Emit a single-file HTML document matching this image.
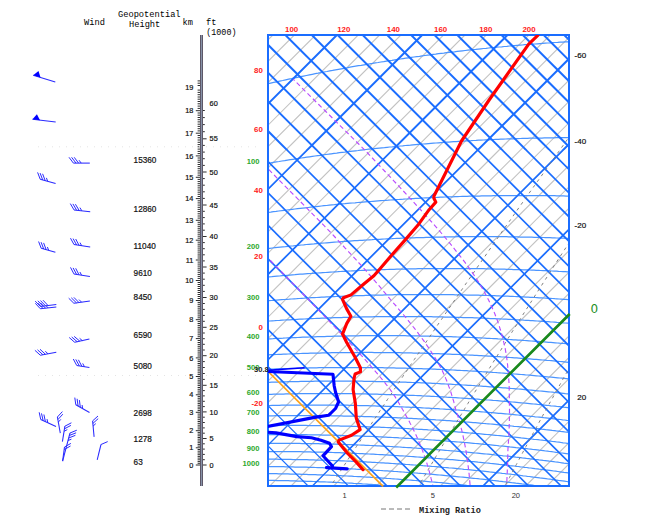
<!DOCTYPE html><html><head><meta charset="utf-8"><style>html,body{margin:0;padding:0;background:#fff;width:650px;height:524px;overflow:hidden}svg{display:block}</style></head><body><svg width="650" height="524" viewBox="0 0 650 524"><defs><clipPath id="c"><rect x="268" y="35" width="301" height="451"/></clipPath><clipPath id="thick"><polygon points="263,383 263,30 574,30 574,491 371,491"/></clipPath><clipPath id="c2"><rect x="268" y="35" width="302" height="452"/></clipPath><clipPath id="b1"><rect x="0" y="0" width="650" height="150"/></clipPath><clipPath id="b2"><rect x="0" y="150" width="650" height="200"/></clipPath><clipPath id="b3"><rect x="0" y="350" width="650" height="200"/></clipPath><clipPath id="thin"><polygon points="263,383 371,491 263,491"/></clipPath></defs><g clip-path="url(#c)"><line x1="268.0" y1="39.9" x2="272.9" y2="35.0" stroke="#c2c2c2" stroke-width="1.1"/><line x1="268.0" y1="61.3" x2="294.3" y2="35.0" stroke="#c2c2c2" stroke-width="1.1"/><line x1="268.0" y1="82.6" x2="315.6" y2="35.0" stroke="#c2c2c2" stroke-width="1.1"/><line x1="268.0" y1="103.9" x2="336.9" y2="35.0" stroke="#c2c2c2" stroke-width="1.1"/><line x1="268.0" y1="125.2" x2="358.2" y2="35.0" stroke="#c2c2c2" stroke-width="1.1"/><line x1="268.0" y1="146.6" x2="379.6" y2="35.0" stroke="#c2c2c2" stroke-width="1.1"/><line x1="268.0" y1="167.9" x2="400.9" y2="35.0" stroke="#c2c2c2" stroke-width="1.1"/><line x1="268.0" y1="189.2" x2="422.2" y2="35.0" stroke="#c2c2c2" stroke-width="1.1"/><line x1="268.0" y1="210.5" x2="443.5" y2="35.0" stroke="#c2c2c2" stroke-width="1.1"/><line x1="268.0" y1="231.9" x2="464.9" y2="35.0" stroke="#c2c2c2" stroke-width="1.1"/><line x1="268.0" y1="253.2" x2="486.2" y2="35.0" stroke="#c2c2c2" stroke-width="1.1"/><line x1="268.0" y1="274.5" x2="507.5" y2="35.0" stroke="#c2c2c2" stroke-width="1.1"/><line x1="268.0" y1="295.8" x2="528.8" y2="35.0" stroke="#c2c2c2" stroke-width="1.1"/><line x1="268.0" y1="317.2" x2="550.2" y2="35.0" stroke="#c2c2c2" stroke-width="1.1"/><line x1="268.0" y1="338.5" x2="569.0" y2="37.5" stroke="#c2c2c2" stroke-width="1.1"/><line x1="268.0" y1="359.8" x2="569.0" y2="58.8" stroke="#c2c2c2" stroke-width="1.1"/><line x1="268.0" y1="381.1" x2="569.0" y2="80.1" stroke="#c2c2c2" stroke-width="1.1"/><line x1="268.0" y1="402.5" x2="569.0" y2="101.5" stroke="#c2c2c2" stroke-width="1.1"/><line x1="268.0" y1="423.8" x2="569.0" y2="122.8" stroke="#c2c2c2" stroke-width="1.1"/><line x1="268.0" y1="445.1" x2="569.0" y2="144.1" stroke="#c2c2c2" stroke-width="1.1"/><line x1="268.0" y1="466.4" x2="569.0" y2="165.4" stroke="#c2c2c2" stroke-width="1.1"/><line x1="269.8" y1="486.0" x2="569.0" y2="186.8" stroke="#c2c2c2" stroke-width="1.1"/><line x1="291.1" y1="486.0" x2="569.0" y2="208.1" stroke="#c2c2c2" stroke-width="1.1"/><line x1="312.4" y1="486.0" x2="569.0" y2="229.4" stroke="#c2c2c2" stroke-width="1.1"/><line x1="333.7" y1="486.0" x2="569.0" y2="250.7" stroke="#c2c2c2" stroke-width="1.1"/><line x1="355.1" y1="486.0" x2="569.0" y2="272.1" stroke="#c2c2c2" stroke-width="1.1"/><line x1="376.4" y1="486.0" x2="569.0" y2="293.4" stroke="#c2c2c2" stroke-width="1.1"/><line x1="397.7" y1="486.0" x2="569.0" y2="314.7" stroke="#c2c2c2" stroke-width="1.1"/><line x1="419.0" y1="486.0" x2="569.0" y2="336.0" stroke="#c2c2c2" stroke-width="1.1"/><line x1="440.4" y1="486.0" x2="569.0" y2="357.4" stroke="#c2c2c2" stroke-width="1.1"/><line x1="461.7" y1="486.0" x2="569.0" y2="378.7" stroke="#c2c2c2" stroke-width="1.1"/><line x1="483.0" y1="486.0" x2="569.0" y2="400.0" stroke="#c2c2c2" stroke-width="1.1"/><line x1="504.3" y1="486.0" x2="569.0" y2="421.3" stroke="#c2c2c2" stroke-width="1.1"/><line x1="525.7" y1="486.0" x2="569.0" y2="442.7" stroke="#c2c2c2" stroke-width="1.1"/><line x1="547.0" y1="486.0" x2="569.0" y2="464.0" stroke="#c2c2c2" stroke-width="1.1"/><line x1="568.3" y1="486.0" x2="569.0" y2="485.3" stroke="#c2c2c2" stroke-width="1.1"/><polyline points="249.4,88.0 252.4,87.3 255.5,86.6 258.5,85.9 261.6,85.2 264.6,84.5 267.6,83.8 270.7,83.1 273.7,82.4 276.7,81.8 279.7,81.1 282.7,80.5 285.7,79.8 288.7,79.2 291.6,78.6 294.6,77.9 297.6,77.3 300.5,76.7 303.5,76.1 306.4,75.5 309.4,74.9 312.3,74.3 315.2,73.7 318.1,73.2 321.1,72.6 324.0,72.0 326.9,71.5 329.8,70.9 332.6,70.4 335.5,69.8 338.4,69.3 341.3,68.8 344.1,68.3 347.0,67.8 349.9,67.2 352.7,66.7 355.6,66.2 358.4,65.7 361.2,65.3 364.1,64.8 366.9,64.3 369.7,63.8 372.5,63.4 375.3,62.9 378.1,62.5 380.9,62.0 383.7,61.6 386.5,61.1 389.3,60.7 392.0,60.3 394.8,59.8 397.6,59.4 400.3,59.0 403.1,58.6 405.8,58.2 408.6,57.8 411.3,57.4 414.0,57.0 416.8,56.6 419.5,56.3 422.2,55.9 424.9,55.5 427.6,55.1 430.4,54.8 433.1,54.4 435.7,54.1 438.4,53.7 441.1,53.4 443.8,53.1 446.5,52.7 449.2,52.4 451.8,52.1 454.5,51.8 457.2,51.4 459.8,51.1 462.5,50.8 465.1,50.5 467.8,50.2 470.4,49.9 473.0,49.6 475.7,49.4 478.3,49.1 480.9,48.8 483.5,48.5 486.1,48.3 488.7,48.0 491.3,47.7 493.9,47.5 496.5,47.2 499.1,47.0 501.7,46.8 504.3,46.5 506.9,46.3 509.5,46.0 512.0,45.8 514.6,45.6 517.2,45.4 519.7,45.2 522.3,45.0 524.8,44.7 527.4,44.5 529.9,44.3 532.5,44.1 535.0,44.0 537.5,43.8 540.1,43.6 542.6,43.4 545.1,43.2 547.6,43.0 550.2,42.9 552.7,42.7 555.2,42.5 557.7,42.4 560.2,42.2 562.7,42.1 565.2,41.9 567.7,41.8 570.2,41.6 572.7,41.5 575.1,41.4 577.6,41.2 580.1,41.1 582.6,41.0 585.0,40.9 587.5,40.7" fill="none" stroke="#4a94ff" stroke-width="1.25"/><polyline points="250.8,166.3 253.7,165.8 256.5,165.3 259.4,164.8 262.2,164.3 265.0,163.8 267.9,163.3 270.7,162.9 273.5,162.4 276.3,161.9 279.1,161.5 281.9,161.0 284.7,160.6 287.5,160.1 290.2,159.7 293.0,159.3 295.8,158.9 298.6,158.4 301.3,158.0 304.1,157.6 306.8,157.2 309.6,156.8 312.3,156.4 315.0,156.0 317.8,155.6 320.5,155.3 323.2,154.9 325.9,154.5 328.6,154.2 331.3,153.8 334.0,153.4 336.7,153.1 339.4,152.7 342.1,152.4 344.8,152.1 347.5,151.7 350.1,151.4 352.8,151.1 355.5,150.8 358.1,150.5 360.8,150.1 363.4,149.8 366.1,149.5 368.7,149.2 371.4,148.9 374.0,148.7 376.6,148.4 379.3,148.1 381.9,147.8 384.5,147.6 387.1,147.3 389.7,147.0 392.3,146.8 394.9,146.5 397.5,146.3 400.1,146.0 402.7,145.8 405.3,145.5 407.9,145.3 410.4,145.1 413.0,144.8 415.6,144.6 418.2,144.4 420.7,144.2 423.3,144.0 425.8,143.8 428.4,143.6 430.9,143.4 433.5,143.2 436.0,143.0 438.5,142.8 441.1,142.6 443.6,142.4 446.1,142.2 448.6,142.1 451.1,141.9 453.7,141.7 456.2,141.6 458.7,141.4 461.2,141.2 463.7,141.1 466.2,140.9 468.7,140.8 471.2,140.7 473.6,140.5 476.1,140.4 478.6,140.2 481.1,140.1 483.5,140.0 486.0,139.9 488.5,139.8 490.9,139.6 493.4,139.5 495.8,139.4 498.3,139.3 500.7,139.2 503.2,139.1 505.6,139.0 508.1,138.9 510.5,138.8 512.9,138.8 515.4,138.7 517.8,138.6 520.2,138.5 522.6,138.4 525.0,138.4 527.5,138.3 529.9,138.2 532.3,138.2 534.7,138.1 537.1,138.1 539.5,138.0 541.9,138.0 544.3,137.9 546.6,137.9 549.0,137.8 551.4,137.8 553.8,137.8 556.2,137.7 558.5,137.7 560.9,137.7 563.3,137.7 565.7,137.6 568.0,137.6 570.4,137.6 572.7,137.6 575.1,137.6 577.4,137.6 579.8,137.6 582.1,137.6 584.5,137.6 586.8,137.6" fill="none" stroke="#4a94ff" stroke-width="1.25"/><polyline points="248.9,215.1 251.6,214.7 254.4,214.3 257.1,213.9 259.8,213.6 262.6,213.2 265.3,212.8 268.0,212.4 270.7,212.1 273.4,211.7 276.1,211.4 278.8,211.0 281.5,210.7 284.2,210.3 286.9,210.0 289.6,209.7 292.2,209.3 294.9,209.0 297.6,208.7 300.2,208.4 302.9,208.1 305.5,207.8 308.2,207.5 310.8,207.2 313.5,206.9 316.1,206.6 318.7,206.3 321.3,206.0 324.0,205.7 326.6,205.5 329.2,205.2 331.8,204.9 334.4,204.7 337.0,204.4 339.6,204.2 342.2,203.9 344.8,203.7 347.4,203.4 349.9,203.2 352.5,203.0 355.1,202.8 357.7,202.5 360.2,202.3 362.8,202.1 365.3,201.9 367.9,201.7 370.5,201.5 373.0,201.3 375.5,201.1 378.1,200.9 380.6,200.7 383.1,200.5 385.7,200.3 388.2,200.2 390.7,200.0 393.2,199.8 395.7,199.6 398.3,199.5 400.8,199.3 403.3,199.2 405.8,199.0 408.3,198.9 410.7,198.7 413.2,198.6 415.7,198.4 418.2,198.3 420.7,198.2 423.1,198.0 425.6,197.9 428.1,197.8 430.5,197.7 433.0,197.6 435.5,197.5 437.9,197.3 440.4,197.2 442.8,197.1 445.3,197.0 447.7,196.9 450.1,196.8 452.6,196.8 455.0,196.7 457.4,196.6 459.9,196.5 462.3,196.4 464.7,196.4 467.1,196.3 469.5,196.2 471.9,196.2 474.4,196.1 476.8,196.0 479.2,196.0 481.6,195.9 483.9,195.9 486.3,195.8 488.7,195.8 491.1,195.8 493.5,195.7 495.9,195.7 498.3,195.7 500.6,195.6 503.0,195.6 505.4,195.6 507.7,195.6 510.1,195.5 512.5,195.5 514.8,195.5 517.2,195.5 519.5,195.5 521.9,195.5 524.2,195.5 526.6,195.5 528.9,195.5 531.2,195.5 533.6,195.5 535.9,195.5 538.2,195.6 540.6,195.6 542.9,195.6 545.2,195.6 547.5,195.6 549.8,195.7 552.2,195.7 554.5,195.7 556.8,195.8 559.1,195.8 561.4,195.9 563.7,195.9 566.0,196.0 568.3,196.0 570.6,196.1 572.9,196.1 575.2,196.2 577.4,196.2 579.7,196.3 582.0,196.4 584.3,196.4 586.6,196.5 588.8,196.6" fill="none" stroke="#4a94ff" stroke-width="1.25"/><polyline points="248.5,250.8 251.1,250.4 253.8,250.1 256.5,249.8 259.1,249.5 261.8,249.2 264.4,248.9 267.1,248.6 269.7,248.3 272.4,248.0 275.0,247.7 277.6,247.4 280.2,247.1 282.9,246.8 285.5,246.6 288.1,246.3 290.7,246.0 293.3,245.8 295.9,245.5 298.5,245.3 301.1,245.0 303.7,244.8 306.3,244.5 308.9,244.3 311.4,244.1 314.0,243.9 316.6,243.6 319.1,243.4 321.7,243.2 324.3,243.0 326.8,242.8 329.4,242.6 331.9,242.4 334.4,242.2 337.0,242.0 339.5,241.8 342.0,241.6 344.6,241.4 347.1,241.3 349.6,241.1 352.1,240.9 354.6,240.7 357.2,240.6 359.7,240.4 362.2,240.3 364.7,240.1 367.2,240.0 369.6,239.8 372.1,239.7 374.6,239.5 377.1,239.4 379.6,239.3 382.1,239.1 384.5,239.0 387.0,238.9 389.5,238.8 391.9,238.7 394.4,238.5 396.8,238.4 399.3,238.3 401.7,238.2 404.2,238.1 406.6,238.0 409.0,237.9 411.5,237.9 413.9,237.8 416.3,237.7 418.8,237.6 421.2,237.5 423.6,237.5 426.0,237.4 428.4,237.3 430.8,237.3 433.3,237.2 435.7,237.1 438.1,237.1 440.5,237.0 442.9,237.0 445.2,236.9 447.6,236.9 450.0,236.9 452.4,236.8 454.8,236.8 457.2,236.7 459.5,236.7 461.9,236.7 464.3,236.7 466.6,236.7 469.0,236.6 471.4,236.6 473.7,236.6 476.1,236.6 478.4,236.6 480.8,236.6 483.1,236.6 485.5,236.6 487.8,236.6 490.1,236.6 492.5,236.6 494.8,236.6 497.1,236.6 499.5,236.7 501.8,236.7 504.1,236.7 506.4,236.7 508.7,236.8 511.1,236.8 513.4,236.8 515.7,236.9 518.0,236.9 520.3,237.0 522.6,237.0 524.9,237.0 527.2,237.1 529.5,237.1 531.8,237.2 534.1,237.3 536.3,237.3 538.6,237.4 540.9,237.4 543.2,237.5 545.5,237.6 547.7,237.7 550.0,237.7 552.3,237.8 554.5,237.9 556.8,238.0 559.1,238.1 561.3,238.1 563.6,238.2 565.8,238.3 568.1,238.4 570.3,238.5 572.6,238.6 574.8,238.7 577.1,238.8 579.3,238.9 581.6,239.0 583.8,239.1 586.0,239.2 588.3,239.4" fill="none" stroke="#4a94ff" stroke-width="1.25"/><polyline points="248.4,279.0 251.0,278.7 253.6,278.4 256.2,278.2 258.8,277.9 261.4,277.7 264.0,277.4 266.6,277.1 269.2,276.9 271.8,276.7 274.4,276.4 277.0,276.2 279.6,276.0 282.1,275.7 284.7,275.5 287.3,275.3 289.8,275.1 292.4,274.9 294.9,274.7 297.5,274.4 300.0,274.2 302.6,274.1 305.1,273.9 307.6,273.7 310.2,273.5 312.7,273.3 315.2,273.1 317.7,273.0 320.3,272.8 322.8,272.6 325.3,272.5 327.8,272.3 330.3,272.1 332.8,272.0 335.3,271.8 337.8,271.7 340.3,271.5 342.7,271.4 345.2,271.3 347.7,271.1 350.2,271.0 352.6,270.9 355.1,270.8 357.6,270.6 360.0,270.5 362.5,270.4 365.0,270.3 367.4,270.2 369.8,270.1 372.3,270.0 374.7,269.9 377.2,269.8 379.6,269.7 382.0,269.6 384.5,269.6 386.9,269.5 389.3,269.4 391.7,269.3 394.1,269.3 396.6,269.2 399.0,269.1 401.4,269.1 403.8,269.0 406.2,269.0 408.6,268.9 411.0,268.9 413.4,268.8 415.8,268.8 418.1,268.7 420.5,268.7 422.9,268.7 425.3,268.6 427.7,268.6 430.0,268.6 432.4,268.5 434.8,268.5 437.1,268.5 439.5,268.5 441.8,268.5 444.2,268.5 446.5,268.5 448.9,268.5 451.2,268.5 453.6,268.5 455.9,268.5 458.3,268.5 460.6,268.5 462.9,268.5 465.3,268.5 467.6,268.5 469.9,268.6 472.2,268.6 474.6,268.6 476.9,268.6 479.2,268.7 481.5,268.7 483.8,268.7 486.1,268.8 488.4,268.8 490.7,268.9 493.0,268.9 495.3,269.0 497.6,269.0 499.9,269.1 502.2,269.1 504.5,269.2 506.7,269.3 509.0,269.3 511.3,269.4 513.6,269.5 515.9,269.5 518.1,269.6 520.4,269.7 522.7,269.8 524.9,269.8 527.2,269.9 529.4,270.0 531.7,270.1 534.0,270.2 536.2,270.3 538.5,270.4 540.7,270.5 543.0,270.6 545.2,270.7 547.4,270.8 549.7,270.9 551.9,271.0 554.1,271.1 556.4,271.2 558.6,271.4 560.8,271.5 563.1,271.6 565.3,271.7 567.5,271.8 569.7,272.0 571.9,272.1 574.2,272.2 576.4,272.4 578.6,272.5 580.8,272.6 583.0,272.8 585.2,272.9 587.4,273.1" fill="none" stroke="#4a94ff" stroke-width="1.25"/><polyline points="248.4,302.5 250.9,302.2 253.5,302.0 256.1,301.8 258.7,301.5 261.2,301.3 263.8,301.1 266.3,300.9 268.9,300.7 271.4,300.5 274.0,300.3 276.5,300.1 279.1,299.9 281.6,299.7 284.1,299.5 286.7,299.3 289.2,299.2 291.7,299.0 294.2,298.8 296.7,298.7 299.2,298.5 301.7,298.3 304.2,298.2 306.7,298.0 309.2,297.9 311.7,297.7 314.2,297.6 316.7,297.5 319.2,297.3 321.7,297.2 324.1,297.1 326.6,296.9 329.1,296.8 331.5,296.7 334.0,296.6 336.5,296.5 338.9,296.4 341.4,296.3 343.8,296.2 346.2,296.1 348.7,296.0 351.1,295.9 353.6,295.8 356.0,295.7 358.4,295.6 360.8,295.5 363.3,295.5 365.7,295.4 368.1,295.3 370.5,295.2 372.9,295.2 375.3,295.1 377.7,295.1 380.1,295.0 382.5,295.0 384.9,294.9 387.3,294.9 389.7,294.8 392.1,294.8 394.5,294.7 396.9,294.7 399.2,294.7 401.6,294.6 404.0,294.6 406.4,294.6 408.7,294.6 411.1,294.6 413.4,294.5 415.8,294.5 418.2,294.5 420.5,294.5 422.9,294.5 425.2,294.5 427.5,294.5 429.9,294.5 432.2,294.5 434.6,294.5 436.9,294.6 439.2,294.6 441.5,294.6 443.9,294.6 446.2,294.6 448.5,294.7 450.8,294.7 453.1,294.7 455.4,294.8 457.8,294.8 460.1,294.8 462.4,294.9 464.7,294.9 467.0,295.0 469.3,295.0 471.6,295.1 473.8,295.1 476.1,295.2 478.4,295.2 480.7,295.3 483.0,295.4 485.3,295.4 487.5,295.5 489.8,295.6 492.1,295.7 494.4,295.7 496.6,295.8 498.9,295.9 501.1,296.0 503.4,296.1 505.7,296.1 507.9,296.2 510.2,296.3 512.4,296.4 514.7,296.5 516.9,296.6 519.2,296.7 521.4,296.8 523.6,296.9 525.9,297.1 528.1,297.2 530.3,297.3 532.6,297.4 534.8,297.5 537.0,297.6 539.2,297.8 541.5,297.9 543.7,298.0 545.9,298.1 548.1,298.3 550.3,298.4 552.5,298.5 554.7,298.7 556.9,298.8 559.1,299.0 561.3,299.1 563.5,299.3 565.7,299.4 567.9,299.6 570.1,299.7 572.3,299.9 574.5,300.0 576.7,300.2 578.9,300.3 581.1,300.5 583.2,300.7 585.4,300.8 587.6,301.0" fill="none" stroke="#4a94ff" stroke-width="1.25"/><polyline points="249.4,322.5 252.0,322.3 254.5,322.1 257.0,321.9 259.6,321.7 262.1,321.6 264.6,321.4 267.2,321.2 269.7,321.0 272.2,320.8 274.7,320.7 277.2,320.5 279.7,320.4 282.2,320.2 284.7,320.0 287.2,319.9 289.7,319.8 292.2,319.6 294.7,319.5 297.2,319.3 299.6,319.2 302.1,319.1 304.6,319.0 307.0,318.8 309.5,318.7 312.0,318.6 314.4,318.5 316.9,318.4 319.3,318.3 321.8,318.2 324.2,318.1 326.7,318.0 329.1,317.9 331.5,317.8 334.0,317.7 336.4,317.6 338.8,317.5 341.2,317.5 343.7,317.4 346.1,317.3 348.5,317.3 350.9,317.2 353.3,317.1 355.7,317.1 358.1,317.0 360.5,317.0 362.9,316.9 365.3,316.9 367.7,316.8 370.1,316.8 372.5,316.8 374.8,316.7 377.2,316.7 379.6,316.7 382.0,316.6 384.3,316.6 386.7,316.6 389.1,316.6 391.4,316.6 393.8,316.6 396.1,316.5 398.5,316.5 400.8,316.5 403.2,316.5 405.5,316.5 407.9,316.5 410.2,316.6 412.5,316.6 414.9,316.6 417.2,316.6 419.5,316.6 421.8,316.6 424.2,316.7 426.5,316.7 428.8,316.7 431.1,316.7 433.4,316.8 435.7,316.8 438.0,316.9 440.3,316.9 442.6,316.9 444.9,317.0 447.2,317.0 449.5,317.1 451.8,317.1 454.1,317.2 456.4,317.3 458.7,317.3 461.0,317.4 463.2,317.5 465.5,317.5 467.8,317.6 470.1,317.7 472.3,317.7 474.6,317.8 476.9,317.9 479.1,318.0 481.4,318.1 483.6,318.2 485.9,318.3 488.1,318.4 490.4,318.5 492.6,318.5 494.9,318.6 497.1,318.8 499.4,318.9 501.6,319.0 503.8,319.1 506.1,319.2 508.3,319.3 510.5,319.4 512.8,319.5 515.0,319.7 517.2,319.8 519.4,319.9 521.7,320.0 523.9,320.2 526.1,320.3 528.3,320.4 530.5,320.6 532.7,320.7 534.9,320.8 537.1,321.0 539.3,321.1 541.5,321.3 543.7,321.4 545.9,321.6 548.1,321.7 550.3,321.9 552.5,322.0 554.7,322.2 556.9,322.4 559.0,322.5 561.2,322.7 563.4,322.9 565.6,323.0 567.8,323.2 569.9,323.4 572.1,323.5 574.3,323.7 576.4,323.9 578.6,324.1 580.8,324.3 582.9,324.5 585.1,324.6 587.2,324.8" fill="none" stroke="#4a94ff" stroke-width="1.25"/><polyline points="248.1,340.3 250.6,340.1 253.1,339.9 255.6,339.8 258.1,339.6 260.6,339.4 263.1,339.3 265.6,339.1 268.1,339.0 270.6,338.8 273.1,338.7 275.6,338.5 278.1,338.4 280.6,338.3 283.0,338.2 285.5,338.0 288.0,337.9 290.4,337.8 292.9,337.7 295.4,337.6 297.8,337.5 300.3,337.3 302.7,337.2 305.2,337.1 307.6,337.1 310.0,337.0 312.5,336.9 314.9,336.8 317.3,336.7 319.8,336.6 322.2,336.5 324.6,336.5 327.0,336.4 329.4,336.3 331.8,336.3 334.2,336.2 336.6,336.2 339.0,336.1 341.4,336.0 343.8,336.0 346.2,336.0 348.6,335.9 351.0,335.9 353.4,335.8 355.8,335.8 358.1,335.8 360.5,335.7 362.9,335.7 365.3,335.7 367.6,335.7 370.0,335.7 372.3,335.6 374.7,335.6 377.1,335.6 379.4,335.6 381.8,335.6 384.1,335.6 386.4,335.6 388.8,335.6 391.1,335.6 393.5,335.6 395.8,335.6 398.1,335.7 400.4,335.7 402.8,335.7 405.1,335.7 407.4,335.8 409.7,335.8 412.0,335.8 414.4,335.9 416.7,335.9 419.0,335.9 421.3,336.0 423.6,336.0 425.9,336.1 428.2,336.1 430.5,336.2 432.8,336.2 435.0,336.3 437.3,336.3 439.6,336.4 441.9,336.5 444.2,336.5 446.4,336.6 448.7,336.7 451.0,336.7 453.3,336.8 455.5,336.9 457.8,337.0 460.1,337.1 462.3,337.2 464.6,337.2 466.8,337.3 469.1,337.4 471.3,337.5 473.6,337.6 475.8,337.7 478.1,337.8 480.3,337.9 482.5,338.0 484.8,338.1 487.0,338.3 489.2,338.4 491.5,338.5 493.7,338.6 495.9,338.7 498.1,338.9 500.4,339.0 502.6,339.1 504.8,339.2 507.0,339.4 509.2,339.5 511.4,339.6 513.6,339.8 515.8,339.9 518.1,340.1 520.3,340.2 522.5,340.3 524.6,340.5 526.8,340.6 529.0,340.8 531.2,341.0 533.4,341.1 535.6,341.3 537.8,341.4 540.0,341.6 542.2,341.8 544.3,341.9 546.5,342.1 548.7,342.3 550.9,342.4 553.0,342.6 555.2,342.8 557.4,343.0 559.5,343.2 561.7,343.3 563.8,343.5 566.0,343.7 568.2,343.9 570.3,344.1 572.5,344.3 574.6,344.5 576.8,344.7 578.9,344.9 581.1,345.1 583.2,345.3 585.3,345.5 587.5,345.7" fill="none" stroke="#4a94ff" stroke-width="1.25"/><polyline points="248.8,355.9 251.3,355.8 253.8,355.7 256.3,355.5 258.8,355.4 261.3,355.2 263.7,355.1 266.2,355.0 268.7,354.9 271.1,354.7 273.6,354.6 276.1,354.5 278.5,354.4 281.0,354.3 283.4,354.2 285.9,354.1 288.3,354.0 290.8,353.9 293.2,353.8 295.6,353.7 298.1,353.6 300.5,353.5 302.9,353.4 305.3,353.4 307.8,353.3 310.2,353.2 312.6,353.2 315.0,353.1 317.4,353.0 319.8,353.0 322.2,352.9 324.6,352.9 327.0,352.8 329.4,352.8 331.8,352.7 334.2,352.7 336.6,352.7 338.9,352.6 341.3,352.6 343.7,352.6 346.1,352.5 348.4,352.5 350.8,352.5 353.2,352.5 355.5,352.5 357.9,352.5 360.2,352.4 362.6,352.4 364.9,352.4 367.3,352.4 369.6,352.4 372.0,352.4 374.3,352.5 376.6,352.5 379.0,352.5 381.3,352.5 383.6,352.5 385.9,352.5 388.3,352.6 390.6,352.6 392.9,352.6 395.2,352.6 397.5,352.7 399.8,352.7 402.1,352.8 404.4,352.8 406.7,352.8 409.0,352.9 411.3,352.9 413.6,353.0 415.9,353.0 418.2,353.1 420.5,353.2 422.8,353.2 425.1,353.3 427.3,353.4 429.6,353.4 431.9,353.5 434.2,353.6 436.4,353.7 438.7,353.7 441.0,353.8 443.2,353.9 445.5,354.0 447.7,354.1 450.0,354.2 452.2,354.3 454.5,354.4 456.7,354.4 459.0,354.5 461.2,354.7 463.5,354.8 465.7,354.9 467.9,355.0 470.2,355.1 472.4,355.2 474.6,355.3 476.9,355.4 479.1,355.6 481.3,355.7 483.5,355.8 485.8,355.9 488.0,356.1 490.2,356.2 492.4,356.3 494.6,356.5 496.8,356.6 499.0,356.7 501.2,356.9 503.4,357.0 505.6,357.2 507.8,357.3 510.0,357.5 512.2,357.6 514.4,357.8 516.6,357.9 518.8,358.1 521.0,358.3 523.1,358.4 525.3,358.6 527.5,358.8 529.7,358.9 531.9,359.1 534.0,359.3 536.2,359.4 538.4,359.6 540.5,359.8 542.7,360.0 544.9,360.2 547.0,360.4 549.2,360.5 551.3,360.7 553.5,360.9 555.6,361.1 557.8,361.3 559.9,361.5 562.1,361.7 564.2,361.9 566.4,362.1 568.5,362.3 570.7,362.5 572.8,362.7 574.9,362.9 577.1,363.1 579.2,363.4 581.3,363.6 583.5,363.8 585.6,364.0 587.7,364.2" fill="none" stroke="#4a94ff" stroke-width="1.25"/><polyline points="248.7,370.2 251.2,370.0 253.6,369.9 256.1,369.8 258.6,369.7 261.0,369.5 263.5,369.4 265.9,369.3 268.4,369.2 270.8,369.1 273.3,369.0 275.7,368.9 278.2,368.8 280.6,368.7 283.0,368.7 285.5,368.6 287.9,368.5 290.3,368.4 292.7,368.3 295.1,368.3 297.5,368.2 300.0,368.1 302.4,368.1 304.8,368.0 307.2,368.0 309.6,367.9 312.0,367.9 314.4,367.8 316.7,367.8 319.1,367.7 321.5,367.7 323.9,367.7 326.3,367.6 328.6,367.6 331.0,367.6 333.4,367.6 335.7,367.5 338.1,367.5 340.5,367.5 342.8,367.5 345.2,367.5 347.5,367.5 349.9,367.5 352.2,367.5 354.6,367.5 356.9,367.5 359.2,367.5 361.6,367.5 363.9,367.5 366.2,367.5 368.6,367.6 370.9,367.6 373.2,367.6 375.5,367.6 377.9,367.7 380.2,367.7 382.5,367.7 384.8,367.8 387.1,367.8 389.4,367.8 391.7,367.9 394.0,367.9 396.3,368.0 398.6,368.0 400.9,368.1 403.2,368.2 405.4,368.2 407.7,368.3 410.0,368.3 412.3,368.4 414.6,368.5 416.8,368.5 419.1,368.6 421.4,368.7 423.6,368.8 425.9,368.9 428.2,368.9 430.4,369.0 432.7,369.1 434.9,369.2 437.2,369.3 439.4,369.4 441.7,369.5 443.9,369.6 446.2,369.7 448.4,369.8 450.7,369.9 452.9,370.0 455.1,370.1 457.4,370.3 459.6,370.4 461.8,370.5 464.0,370.6 466.3,370.7 468.5,370.9 470.7,371.0 472.9,371.1 475.1,371.2 477.4,371.4 479.6,371.5 481.8,371.7 484.0,371.8 486.2,371.9 488.4,372.1 490.6,372.2 492.8,372.4 495.0,372.5 497.2,372.7 499.4,372.8 501.5,373.0 503.7,373.1 505.9,373.3 508.1,373.5 510.3,373.6 512.5,373.8 514.6,374.0 516.8,374.1 519.0,374.3 521.1,374.5 523.3,374.7 525.5,374.9 527.6,375.0 529.8,375.2 532.0,375.4 534.1,375.6 536.3,375.8 538.4,376.0 540.6,376.2 542.7,376.4 544.9,376.6 547.0,376.8 549.2,377.0 551.3,377.2 553.5,377.4 555.6,377.6 557.7,377.8 559.9,378.0 562.0,378.2 564.1,378.4 566.3,378.6 568.4,378.8 570.5,379.1 572.7,379.3 574.8,379.5 576.9,379.7 579.0,380.0 581.1,380.2 583.3,380.4 585.4,380.6 587.5,380.9" fill="none" stroke="#4a94ff" stroke-width="1.25"/><polyline points="249.9,383.1 252.3,382.9 254.8,382.8 257.2,382.7 259.7,382.6 262.1,382.5 264.5,382.5 267.0,382.4 269.4,382.3 271.8,382.2 274.3,382.1 276.7,382.0 279.1,382.0 281.5,381.9 283.9,381.8 286.3,381.8 288.7,381.7 291.2,381.6 293.6,381.6 296.0,381.5 298.3,381.5 300.7,381.4 303.1,381.4 305.5,381.4 307.9,381.3 310.3,381.3 312.7,381.3 315.0,381.2 317.4,381.2 319.8,381.2 322.1,381.2 324.5,381.1 326.9,381.1 329.2,381.1 331.6,381.1 333.9,381.1 336.3,381.1 338.6,381.1 341.0,381.1 343.3,381.1 345.6,381.1 348.0,381.1 350.3,381.1 352.6,381.2 355.0,381.2 357.3,381.2 359.6,381.2 361.9,381.2 364.2,381.3 366.6,381.3 368.9,381.3 371.2,381.4 373.5,381.4 375.8,381.5 378.1,381.5 380.4,381.6 382.7,381.6 385.0,381.7 387.3,381.7 389.5,381.8 391.8,381.8 394.1,381.9 396.4,382.0 398.7,382.0 401.0,382.1 403.2,382.2 405.5,382.2 407.8,382.3 410.0,382.4 412.3,382.5 414.6,382.6 416.8,382.6 419.1,382.7 421.3,382.8 423.6,382.9 425.8,383.0 428.1,383.1 430.3,383.2 432.6,383.3 434.8,383.4 437.0,383.5 439.3,383.6 441.5,383.8 443.7,383.9 446.0,384.0 448.2,384.1 450.4,384.2 452.7,384.3 454.9,384.5 457.1,384.6 459.3,384.7 461.5,384.9 463.7,385.0 465.9,385.1 468.2,385.3 470.4,385.4 472.6,385.5 474.8,385.7 477.0,385.8 479.2,386.0 481.4,386.1 483.5,386.3 485.7,386.4 487.9,386.6 490.1,386.8 492.3,386.9 494.5,387.1 496.7,387.3 498.8,387.4 501.0,387.6 503.2,387.8 505.4,387.9 507.5,388.1 509.7,388.3 511.9,388.5 514.0,388.6 516.2,388.8 518.4,389.0 520.5,389.2 522.7,389.4 524.8,389.6 527.0,389.8 529.1,390.0 531.3,390.2 533.4,390.4 535.6,390.6 537.7,390.8 539.9,391.0 542.0,391.2 544.1,391.4 546.3,391.6 548.4,391.8 550.5,392.0 552.7,392.2 554.8,392.5 556.9,392.7 559.0,392.9 561.2,393.1 563.3,393.3 565.4,393.6 567.5,393.8 569.6,394.0 571.8,394.3 573.9,394.5 576.0,394.7 578.1,395.0 580.2,395.2 582.3,395.4 584.4,395.7 586.5,395.9 588.6,396.2" fill="none" stroke="#4a94ff" stroke-width="1.25"/><polyline points="249.7,395.0 252.1,394.9 254.5,394.8 257.0,394.7 259.4,394.6 261.8,394.5 264.3,394.5 266.7,394.4 269.1,394.3 271.5,394.3 273.9,394.2 276.3,394.1 278.7,394.1 281.1,394.0 283.5,394.0 285.9,393.9 288.3,393.9 290.7,393.8 293.1,393.8 295.5,393.8 297.8,393.7 300.2,393.7 302.6,393.7 305.0,393.6 307.3,393.6 309.7,393.6 312.1,393.6 314.4,393.6 316.8,393.5 319.1,393.5 321.5,393.5 323.8,393.5 326.2,393.5 328.5,393.5 330.9,393.5 333.2,393.5 335.5,393.6 337.9,393.6 340.2,393.6 342.5,393.6 344.9,393.6 347.2,393.7 349.5,393.7 351.8,393.7 354.1,393.7 356.4,393.8 358.7,393.8 361.0,393.8 363.4,393.9 365.7,393.9 368.0,394.0 370.2,394.0 372.5,394.1 374.8,394.1 377.1,394.2 379.4,394.3 381.7,394.3 384.0,394.4 386.2,394.5 388.5,394.5 390.8,394.6 393.1,394.7 395.3,394.7 397.6,394.8 399.9,394.9 402.1,395.0 404.4,395.1 406.6,395.2 408.9,395.3 411.2,395.4 413.4,395.4 415.7,395.5 417.9,395.6 420.1,395.7 422.4,395.9 424.6,396.0 426.9,396.1 429.1,396.2 431.3,396.3 433.5,396.4 435.8,396.5 438.0,396.7 440.2,396.8 442.4,396.9 444.7,397.0 446.9,397.2 449.1,397.3 451.3,397.4 453.5,397.6 455.7,397.7 457.9,397.8 460.1,398.0 462.3,398.1 464.5,398.3 466.7,398.4 468.9,398.6 471.1,398.7 473.3,398.9 475.5,399.0 477.7,399.2 479.9,399.4 482.0,399.5 484.2,399.7 486.4,399.9 488.6,400.0 490.8,400.2 492.9,400.4 495.1,400.5 497.3,400.7 499.4,400.9 501.6,401.1 503.8,401.3 505.9,401.4 508.1,401.6 510.2,401.8 512.4,402.0 514.5,402.2 516.7,402.4 518.8,402.6 521.0,402.8 523.1,403.0 525.3,403.2 527.4,403.4 529.6,403.6 531.7,403.8 533.8,404.0 536.0,404.2 538.1,404.5 540.2,404.7 542.4,404.9 544.5,405.1 546.6,405.3 548.7,405.5 550.9,405.8 553.0,406.0 555.1,406.2 557.2,406.5 559.3,406.7 561.4,406.9 563.5,407.2 565.7,407.4 567.8,407.6 569.9,407.9 572.0,408.1 574.1,408.4 576.2,408.6 578.3,408.9 580.4,409.1 582.5,409.4 584.6,409.6 586.7,409.9 588.7,410.1" fill="none" stroke="#4a94ff" stroke-width="1.25"/><polyline points="250.4,406.0 252.8,405.9 255.2,405.8 257.7,405.8 260.1,405.7 262.5,405.6 264.9,405.6 267.3,405.5 269.7,405.5 272.1,405.4 274.5,405.4 276.9,405.3 279.3,405.3 281.6,405.2 284.0,405.2 286.4,405.2 288.8,405.1 291.2,405.1 293.5,405.1 295.9,405.0 298.3,405.0 300.6,405.0 303.0,405.0 305.3,405.0 307.7,405.0 310.1,405.0 312.4,405.0 314.7,405.0 317.1,405.0 319.4,405.0 321.8,405.0 324.1,405.0 326.4,405.0 328.8,405.0 331.1,405.0 333.4,405.1 335.7,405.1 338.1,405.1 340.4,405.1 342.7,405.2 345.0,405.2 347.3,405.2 349.6,405.3 351.9,405.3 354.2,405.4 356.5,405.4 358.8,405.5 361.1,405.5 363.4,405.6 365.7,405.6 368.0,405.7 370.3,405.8 372.5,405.8 374.8,405.9 377.1,406.0 379.4,406.0 381.6,406.1 383.9,406.2 386.2,406.3 388.4,406.3 390.7,406.4 393.0,406.5 395.2,406.6 397.5,406.7 399.7,406.8 402.0,406.9 404.2,407.0 406.5,407.1 408.7,407.2 410.9,407.3 413.2,407.4 415.4,407.5 417.7,407.6 419.9,407.7 422.1,407.8 424.3,408.0 426.6,408.1 428.8,408.2 431.0,408.3 433.2,408.5 435.4,408.6 437.7,408.7 439.9,408.9 442.1,409.0 444.3,409.1 446.5,409.3 448.7,409.4 450.9,409.6 453.1,409.7 455.3,409.9 457.5,410.0 459.7,410.2 461.9,410.3 464.1,410.5 466.2,410.6 468.4,410.8 470.6,411.0 472.8,411.1 475.0,411.3 477.2,411.5 479.3,411.6 481.5,411.8 483.7,412.0 485.8,412.2 488.0,412.3 490.2,412.5 492.3,412.7 494.5,412.9 496.6,413.1 498.8,413.3 501.0,413.4 503.1,413.6 505.3,413.8 507.4,414.0 509.6,414.2 511.7,414.4 513.8,414.6 516.0,414.8 518.1,415.0 520.3,415.3 522.4,415.5 524.5,415.7 526.7,415.9 528.8,416.1 530.9,416.3 533.1,416.5 535.2,416.8 537.3,417.0 539.4,417.2 541.5,417.4 543.7,417.7 545.8,417.9 547.9,418.1 550.0,418.4 552.1,418.6 554.2,418.8 556.3,419.1 558.4,419.3 560.5,419.5 562.6,419.8 564.7,420.0 566.8,420.3 568.9,420.5 571.0,420.8 573.1,421.0 575.2,421.3 577.3,421.5 579.4,421.8 581.5,422.1 583.6,422.3 585.6,422.6 587.7,422.9" fill="none" stroke="#4a94ff" stroke-width="1.25"/><polyline points="249.5,416.3 251.9,416.2 254.3,416.2 256.7,416.1 259.1,416.0 261.5,416.0 263.9,415.9 266.3,415.9 268.7,415.8 271.1,415.8 273.4,415.8 275.8,415.7 278.2,415.7 280.6,415.7 282.9,415.7 285.3,415.6 287.7,415.6 290.0,415.6 292.4,415.6 294.8,415.6 297.1,415.6 299.5,415.6 301.8,415.6 304.2,415.6 306.5,415.6 308.8,415.6 311.2,415.6 313.5,415.6 315.8,415.6 318.2,415.6 320.5,415.6 322.8,415.6 325.2,415.7 327.5,415.7 329.8,415.7 332.1,415.8 334.4,415.8 336.7,415.8 339.0,415.9 341.3,415.9 343.6,416.0 345.9,416.0 348.2,416.1 350.5,416.1 352.8,416.2 355.1,416.2 357.4,416.3 359.7,416.3 361.9,416.4 364.2,416.5 366.5,416.5 368.8,416.6 371.0,416.7 373.3,416.8 375.6,416.8 377.8,416.9 380.1,417.0 382.4,417.1 384.6,417.2 386.9,417.3 389.1,417.4 391.4,417.5 393.6,417.6 395.9,417.7 398.1,417.8 400.4,417.9 402.6,418.0 404.8,418.1 407.1,418.2 409.3,418.3 411.5,418.4 413.8,418.6 416.0,418.7 418.2,418.8 420.4,418.9 422.6,419.0 424.9,419.2 427.1,419.3 429.3,419.4 431.5,419.6 433.7,419.7 435.9,419.9 438.1,420.0 440.3,420.1 442.5,420.3 444.7,420.4 446.9,420.6 449.1,420.7 451.3,420.9 453.5,421.1 455.7,421.2 457.8,421.4 460.0,421.5 462.2,421.7 464.4,421.9 466.6,422.0 468.7,422.2 470.9,422.4 473.1,422.6 475.3,422.7 477.4,422.9 479.6,423.1 481.7,423.3 483.9,423.5 486.1,423.7 488.2,423.8 490.4,424.0 492.5,424.2 494.7,424.4 496.8,424.6 499.0,424.8 501.1,425.0 503.3,425.2 505.4,425.4 507.5,425.6 509.7,425.8 511.8,426.0 514.0,426.3 516.1,426.5 518.2,426.7 520.3,426.9 522.5,427.1 524.6,427.3 526.7,427.6 528.8,427.8 531.0,428.0 533.1,428.2 535.2,428.5 537.3,428.7 539.4,428.9 541.5,429.2 543.6,429.4 545.7,429.7 547.8,429.9 550.0,430.1 552.1,430.4 554.2,430.6 556.3,430.9 558.3,431.1 560.4,431.4 562.5,431.6 564.6,431.9 566.7,432.1 568.8,432.4 570.9,432.7 573.0,432.9 575.1,433.2 577.1,433.4 579.2,433.7 581.3,434.0 583.4,434.2 585.5,434.5 587.5,434.8" fill="none" stroke="#4a94ff" stroke-width="1.25"/><polyline points="249.2,425.9 251.6,425.8 254.0,425.8 256.4,425.7 258.8,425.7 261.2,425.7 263.6,425.6 266.0,425.6 268.3,425.6 270.7,425.5 273.1,425.5 275.5,425.5 277.8,425.5 280.2,425.4 282.5,425.4 284.9,425.4 287.3,425.4 289.6,425.4 292.0,425.4 294.3,425.4 296.6,425.4 299.0,425.4 301.3,425.4 303.7,425.4 306.0,425.4 308.3,425.5 310.7,425.5 313.0,425.5 315.3,425.5 317.6,425.6 319.9,425.6 322.2,425.6 324.6,425.6 326.9,425.7 329.2,425.7 331.5,425.8 333.8,425.8 336.1,425.9 338.4,425.9 340.7,426.0 343.0,426.0 345.2,426.1 347.5,426.1 349.8,426.2 352.1,426.3 354.4,426.3 356.6,426.4 358.9,426.5 361.2,426.5 363.5,426.6 365.7,426.7 368.0,426.8 370.3,426.9 372.5,427.0 374.8,427.0 377.0,427.1 379.3,427.2 381.5,427.3 383.8,427.4 386.0,427.5 388.3,427.6 390.5,427.7 392.7,427.8 395.0,427.9 397.2,428.1 399.4,428.2 401.7,428.3 403.9,428.4 406.1,428.5 408.3,428.6 410.6,428.8 412.8,428.9 415.0,429.0 417.2,429.2 419.4,429.3 421.6,429.4 423.8,429.6 426.1,429.7 428.3,429.9 430.5,430.0 432.7,430.1 434.9,430.3 437.0,430.4 439.2,430.6 441.4,430.8 443.6,430.9 445.8,431.1 448.0,431.2 450.2,431.4 452.4,431.6 454.5,431.7 456.7,431.9 458.9,432.1 461.1,432.2 463.2,432.4 465.4,432.6 467.6,432.8 469.7,433.0 471.9,433.1 474.0,433.3 476.2,433.5 478.4,433.7 480.5,433.9 482.7,434.1 484.8,434.3 487.0,434.5 489.1,434.7 491.3,434.9 493.4,435.1 495.5,435.3 497.7,435.5 499.8,435.7 502.0,435.9 504.1,436.1 506.2,436.3 508.4,436.5 510.5,436.8 512.6,437.0 514.7,437.2 516.9,437.4 519.0,437.6 521.1,437.9 523.2,438.1 525.3,438.3 527.4,438.6 529.6,438.8 531.7,439.0 533.8,439.3 535.9,439.5 538.0,439.7 540.1,440.0 542.2,440.2 544.3,440.5 546.4,440.7 548.5,441.0 550.6,441.2 552.7,441.5 554.8,441.7 556.9,442.0 559.0,442.2 561.0,442.5 563.1,442.8 565.2,443.0 567.3,443.3 569.4,443.6 571.4,443.8 573.5,444.1 575.6,444.4 577.7,444.6 579.7,444.9 581.8,445.2 583.9,445.5 585.9,445.7 588.0,446.0" fill="none" stroke="#4a94ff" stroke-width="1.25"/><polyline points="249.6,434.9 252.0,434.9 254.4,434.8 256.7,434.8 259.1,434.8 261.5,434.8 263.9,434.7 266.2,434.7 268.6,434.7 271.0,434.7 273.3,434.7 275.7,434.6 278.0,434.6 280.4,434.6 282.7,434.6 285.1,434.6 287.4,434.6 289.8,434.6 292.1,434.6 294.4,434.7 296.8,434.7 299.1,434.7 301.4,434.7 303.8,434.7 306.1,434.7 308.4,434.8 310.7,434.8 313.0,434.8 315.3,434.9 317.6,434.9 320.0,434.9 322.3,435.0 324.6,435.0 326.9,435.1 329.2,435.1 331.4,435.2 333.7,435.2 336.0,435.3 338.3,435.4 340.6,435.4 342.9,435.5 345.2,435.5 347.4,435.6 349.7,435.7 352.0,435.8 354.2,435.8 356.5,435.9 358.8,436.0 361.0,436.1 363.3,436.2 365.6,436.3 367.8,436.4 370.1,436.4 372.3,436.5 374.6,436.6 376.8,436.7 379.0,436.8 381.3,436.9 383.5,437.1 385.8,437.2 388.0,437.3 390.2,437.4 392.5,437.5 394.7,437.6 396.9,437.7 399.1,437.9 401.3,438.0 403.6,438.1 405.8,438.3 408.0,438.4 410.2,438.5 412.4,438.7 414.6,438.8 416.8,438.9 419.0,439.1 421.2,439.2 423.4,439.4 425.6,439.5 427.8,439.7 430.0,439.8 432.2,440.0 434.4,440.1 436.6,440.3 438.8,440.4 441.0,440.6 443.1,440.8 445.3,440.9 447.5,441.1 449.7,441.3 451.8,441.5 454.0,441.6 456.2,441.8 458.3,442.0 460.5,442.2 462.7,442.4 464.8,442.5 467.0,442.7 469.1,442.9 471.3,443.1 473.5,443.3 475.6,443.5 477.8,443.7 479.9,443.9 482.0,444.1 484.2,444.3 486.3,444.5 488.5,444.7 490.6,444.9 492.7,445.1 494.9,445.3 497.0,445.5 499.1,445.8 501.3,446.0 503.4,446.2 505.5,446.4 507.6,446.6 509.8,446.9 511.9,447.1 514.0,447.3 516.1,447.6 518.2,447.8 520.3,448.0 522.5,448.3 524.6,448.5 526.7,448.7 528.8,449.0 530.9,449.2 533.0,449.5 535.1,449.7 537.2,449.9 539.3,450.2 541.4,450.4 543.5,450.7 545.6,451.0 547.6,451.2 549.7,451.5 551.8,451.7 553.9,452.0 556.0,452.3 558.1,452.5 560.1,452.8 562.2,453.0 564.3,453.3 566.4,453.6 568.5,453.9 570.5,454.1 572.6,454.4 574.7,454.7 576.7,455.0 578.8,455.2 580.9,455.5 582.9,455.8 585.0,456.1 587.0,456.4" fill="none" stroke="#4a94ff" stroke-width="1.25"/><polyline points="248.1,443.5 250.5,443.4 252.8,443.4 255.2,443.4 257.6,443.4 259.9,443.3 262.3,443.3 264.7,443.3 267.0,443.3 269.4,443.3 271.7,443.3 274.1,443.3 276.4,443.3 278.8,443.3 281.1,443.3 283.4,443.3 285.8,443.3 288.1,443.3 290.4,443.3 292.8,443.4 295.1,443.4 297.4,443.4 299.7,443.4 302.1,443.5 304.4,443.5 306.7,443.5 309.0,443.6 311.3,443.6 313.6,443.6 315.9,443.7 318.2,443.7 320.5,443.8 322.8,443.8 325.1,443.9 327.4,444.0 329.6,444.0 331.9,444.1 334.2,444.1 336.5,444.2 338.8,444.3 341.0,444.3 343.3,444.4 345.6,444.5 347.8,444.6 350.1,444.7 352.4,444.7 354.6,444.8 356.9,444.9 359.1,445.0 361.4,445.1 363.6,445.2 365.9,445.3 368.1,445.4 370.4,445.5 372.6,445.6 374.9,445.7 377.1,445.8 379.3,445.9 381.6,446.1 383.8,446.2 386.0,446.3 388.2,446.4 390.5,446.5 392.7,446.7 394.9,446.8 397.1,446.9 399.3,447.0 401.5,447.2 403.8,447.3 406.0,447.5 408.2,447.6 410.4,447.7 412.6,447.9 414.8,448.0 417.0,448.2 419.2,448.3 421.4,448.5 423.6,448.6 425.7,448.8 427.9,448.9 430.1,449.1 432.3,449.3 434.5,449.4 436.7,449.6 438.8,449.8 441.0,449.9 443.2,450.1 445.3,450.3 447.5,450.5 449.7,450.7 451.8,450.8 454.0,451.0 456.2,451.2 458.3,451.4 460.5,451.6 462.6,451.8 464.8,452.0 466.9,452.2 469.1,452.4 471.2,452.6 473.4,452.8 475.5,453.0 477.7,453.2 479.8,453.4 481.9,453.6 484.1,453.8 486.2,454.0 488.3,454.2 490.5,454.4 492.6,454.6 494.7,454.9 496.9,455.1 499.0,455.3 501.1,455.5 503.2,455.8 505.3,456.0 507.5,456.2 509.6,456.4 511.7,456.7 513.8,456.9 515.9,457.2 518.0,457.4 520.1,457.6 522.2,457.9 524.3,458.1 526.4,458.4 528.5,458.6 530.6,458.9 532.7,459.1 534.8,459.4 536.9,459.6 539.0,459.9 541.1,460.1 543.2,460.4 545.2,460.6 547.3,460.9 549.4,461.2 551.5,461.4 553.6,461.7 555.6,462.0 557.7,462.2 559.8,462.5 561.9,462.8 563.9,463.1 566.0,463.3 568.1,463.6 570.1,463.9 572.2,464.2 574.3,464.5 576.3,464.8 578.4,465.0 580.4,465.3 582.5,465.6 584.5,465.9 586.6,466.2 588.7,466.5" fill="none" stroke="#4a94ff" stroke-width="1.25"/><polyline points="249.4,451.5 251.8,451.5 254.1,451.5 256.5,451.5 258.9,451.5 261.2,451.5 263.6,451.5 265.9,451.5 268.3,451.5 270.6,451.5 272.9,451.5 275.3,451.5 277.6,451.5 279.9,451.5 282.3,451.5 284.6,451.5 286.9,451.5 289.3,451.6 291.6,451.6 293.9,451.6 296.2,451.7 298.5,451.7 300.8,451.7 303.1,451.8 305.4,451.8 307.7,451.9 310.0,451.9 312.3,452.0 314.6,452.0 316.9,452.1 319.2,452.1 321.5,452.2 323.8,452.2 326.0,452.3 328.3,452.4 330.6,452.4 332.9,452.5 335.1,452.6 337.4,452.7 339.7,452.7 341.9,452.8 344.2,452.9 346.5,453.0 348.7,453.1 351.0,453.2 353.2,453.3 355.5,453.4 357.7,453.5 360.0,453.6 362.2,453.7 364.5,453.8 366.7,453.9 368.9,454.0 371.2,454.1 373.4,454.2 375.6,454.3 377.9,454.5 380.1,454.6 382.3,454.7 384.5,454.8 386.7,454.9 389.0,455.1 391.2,455.2 393.4,455.3 395.6,455.5 397.8,455.6 400.0,455.8 402.2,455.9 404.4,456.0 406.6,456.2 408.8,456.3 411.0,456.5 413.2,456.6 415.4,456.8 417.6,457.0 419.8,457.1 421.9,457.3 424.1,457.4 426.3,457.6 428.5,457.8 430.7,457.9 432.8,458.1 435.0,458.3 437.2,458.5 439.4,458.6 441.5,458.8 443.7,459.0 445.8,459.2 448.0,459.4 450.2,459.6 452.3,459.7 454.5,459.9 456.6,460.1 458.8,460.3 460.9,460.5 463.1,460.7 465.2,460.9 467.4,461.1 469.5,461.3 471.6,461.5 473.8,461.7 475.9,461.9 478.1,462.2 480.2,462.4 482.3,462.6 484.4,462.8 486.6,463.0 488.7,463.2 490.8,463.5 492.9,463.7 495.1,463.9 497.2,464.1 499.3,464.4 501.4,464.6 503.5,464.8 505.6,465.1 507.7,465.3 509.8,465.6 511.9,465.8 514.1,466.0 516.2,466.3 518.3,466.5 520.4,466.8 522.4,467.0 524.5,467.3 526.6,467.5 528.7,467.8 530.8,468.0 532.9,468.3 535.0,468.6 537.1,468.8 539.2,469.1 541.2,469.3 543.3,469.6 545.4,469.9 547.5,470.1 549.6,470.4 551.6,470.7 553.7,471.0 555.8,471.2 557.8,471.5 559.9,471.8 562.0,472.1 564.0,472.4 566.1,472.6 568.2,472.9 570.2,473.2 572.3,473.5 574.3,473.8 576.4,474.1 578.4,474.4 580.5,474.7 582.5,475.0 584.6,475.3 586.6,475.6 588.7,475.9" fill="none" stroke="#4a94ff" stroke-width="1.25"/><polyline points="248.8,459.2 251.1,459.2 253.5,459.2 255.8,459.2 258.2,459.2 260.5,459.2 262.9,459.2 265.2,459.2 267.6,459.2 269.9,459.2 272.2,459.2 274.6,459.2 276.9,459.2 279.2,459.3 281.5,459.3 283.8,459.3 286.2,459.4 288.5,459.4 290.8,459.4 293.1,459.5 295.4,459.5 297.7,459.5 300.0,459.6 302.3,459.6 304.6,459.7 306.9,459.7 309.2,459.8 311.5,459.8 313.8,459.9 316.0,460.0 318.3,460.0 320.6,460.1 322.9,460.2 325.2,460.2 327.4,460.3 329.7,460.4 332.0,460.5 334.2,460.6 336.5,460.6 338.7,460.7 341.0,460.8 343.3,460.9 345.5,461.0 347.8,461.1 350.0,461.2 352.3,461.3 354.5,461.4 356.7,461.5 359.0,461.6 361.2,461.7 363.4,461.8 365.7,461.9 367.9,462.1 370.1,462.2 372.4,462.3 374.6,462.4 376.8,462.5 379.0,462.7 381.2,462.8 383.4,462.9 385.7,463.1 387.9,463.2 390.1,463.3 392.3,463.5 394.5,463.6 396.7,463.8 398.9,463.9 401.1,464.1 403.3,464.2 405.5,464.4 407.7,464.5 409.9,464.7 412.0,464.8 414.2,465.0 416.4,465.2 418.6,465.3 420.8,465.5 422.9,465.7 425.1,465.8 427.3,466.0 429.5,466.2 431.6,466.4 433.8,466.5 436.0,466.7 438.1,466.9 440.3,467.1 442.4,467.3 444.6,467.5 446.8,467.7 448.9,467.9 451.1,468.0 453.2,468.2 455.4,468.4 457.5,468.6 459.6,468.8 461.8,469.0 463.9,469.3 466.1,469.5 468.2,469.7 470.3,469.9 472.5,470.1 474.6,470.3 476.7,470.5 478.8,470.7 481.0,471.0 483.1,471.2 485.2,471.4 487.3,471.6 489.5,471.9 491.6,472.1 493.7,472.3 495.8,472.6 497.9,472.8 500.0,473.0 502.1,473.3 504.2,473.5 506.3,473.8 508.4,474.0 510.5,474.2 512.6,474.5 514.7,474.7 516.8,475.0 518.9,475.2 521.0,475.5 523.1,475.8 525.2,476.0 527.3,476.3 529.4,476.5 531.4,476.8 533.5,477.1 535.6,477.3 537.7,477.6 539.8,477.9 541.8,478.1 543.9,478.4 546.0,478.7 548.0,479.0 550.1,479.2 552.2,479.5 554.2,479.8 556.3,480.1 558.4,480.4 560.4,480.6 562.5,480.9 564.5,481.2 566.6,481.5 568.7,481.8 570.7,482.1 572.8,482.4 574.8,482.7 576.9,483.0 578.9,483.3 581.0,483.6 583.0,483.9 585.0,484.2 587.1,484.5" fill="none" stroke="#4a94ff" stroke-width="1.25"/><polyline points="248.5,466.5 250.9,466.5 253.2,466.5 255.6,466.5 257.9,466.5 260.2,466.5 262.6,466.5 264.9,466.5 267.2,466.6 269.6,466.6 271.9,466.6 274.2,466.6 276.5,466.6 278.8,466.7 281.2,466.7 283.5,466.7 285.8,466.8 288.1,466.8 290.4,466.9 292.7,466.9 295.0,467.0 297.3,467.0 299.6,467.1 301.9,467.1 304.1,467.2 306.4,467.2 308.7,467.3 311.0,467.4 313.3,467.4 315.6,467.5 317.8,467.6 320.1,467.6 322.4,467.7 324.6,467.8 326.9,467.9 329.2,468.0 331.4,468.0 333.7,468.1 335.9,468.2 338.2,468.3 340.4,468.4 342.7,468.5 344.9,468.6 347.2,468.7 349.4,468.8 351.6,468.9 353.9,469.0 356.1,469.2 358.3,469.3 360.6,469.4 362.8,469.5 365.0,469.6 367.3,469.7 369.5,469.9 371.7,470.0 373.9,470.1 376.1,470.3 378.3,470.4 380.5,470.5 382.8,470.7 385.0,470.8 387.2,470.9 389.4,471.1 391.6,471.2 393.8,471.4 396.0,471.5 398.1,471.7 400.3,471.8 402.5,472.0 404.7,472.2 406.9,472.3 409.1,472.5 411.3,472.7 413.4,472.8 415.6,473.0 417.8,473.2 420.0,473.3 422.1,473.5 424.3,473.7 426.5,473.9 428.6,474.0 430.8,474.2 433.0,474.4 435.1,474.6 437.3,474.8 439.4,475.0 441.6,475.2 443.7,475.4 445.9,475.6 448.0,475.8 450.2,476.0 452.3,476.2 454.5,476.4 456.6,476.6 458.7,476.8 460.9,477.0 463.0,477.2 465.1,477.4 467.3,477.6 469.4,477.9 471.5,478.1 473.6,478.3 475.8,478.5 477.9,478.7 480.0,479.0 482.1,479.2 484.2,479.4 486.4,479.7 488.5,479.9 490.6,480.1 492.7,480.4 494.8,480.6 496.9,480.8 499.0,481.1 501.1,481.3 503.2,481.6 505.3,481.8 507.4,482.1 509.5,482.3 511.6,482.6 513.7,482.8 515.8,483.1 517.9,483.3 519.9,483.6 522.0,483.9 524.1,484.1 526.2,484.4 528.3,484.7 530.4,484.9 532.4,485.2 534.5,485.5 536.6,485.7 538.6,486.0 540.7,486.3 542.8,486.6 544.9,486.8 546.9,487.1 549.0,487.4 551.0,487.7 553.1,488.0 555.2,488.3 557.2,488.5 559.3,488.8 561.3,489.1 563.4,489.4 565.4,489.7 567.5,490.0 569.5,490.3 571.6,490.6 573.6,490.9 575.7,491.2 577.7,491.5 579.8,491.8 581.8,492.1 583.8,492.4 585.9,492.7 587.9,493.1" fill="none" stroke="#4a94ff" stroke-width="1.25"/><polyline points="248.6,473.5 250.9,473.5 253.3,473.5 255.6,473.5 257.9,473.5 260.3,473.5 262.6,473.5 264.9,473.6 267.2,473.6 269.6,473.6 271.9,473.6 274.2,473.7 276.5,473.7 278.8,473.8 281.1,473.8 283.4,473.8 285.7,473.9 288.0,473.9 290.3,474.0 292.6,474.0 294.9,474.1 297.2,474.1 299.5,474.2 301.7,474.3 304.0,474.3 306.3,474.4 308.6,474.5 310.9,474.5 313.1,474.6 315.4,474.7 317.7,474.8 319.9,474.8 322.2,474.9 324.4,475.0 326.7,475.1 329.0,475.2 331.2,475.3 333.5,475.4 335.7,475.5 338.0,475.6 340.2,475.7 342.4,475.8 344.7,475.9 346.9,476.0 349.1,476.1 351.4,476.2 353.6,476.4 355.8,476.5 358.1,476.6 360.3,476.7 362.5,476.8 364.7,477.0 366.9,477.1 369.2,477.2 371.4,477.4 373.6,477.5 375.8,477.6 378.0,477.8 380.2,477.9 382.4,478.1 384.6,478.2 386.8,478.4 389.0,478.5 391.2,478.7 393.4,478.8 395.6,479.0 397.7,479.1 399.9,479.3 402.1,479.5 404.3,479.6 406.5,479.8 408.6,480.0 410.8,480.1 413.0,480.3 415.2,480.5 417.3,480.7 419.5,480.8 421.7,481.0 423.8,481.2 426.0,481.4 428.1,481.6 430.3,481.8 432.5,482.0 434.6,482.1 436.8,482.3 438.9,482.5 441.1,482.7 443.2,482.9 445.3,483.1 447.5,483.3 449.6,483.6 451.8,483.8 453.9,484.0 456.0,484.2 458.2,484.4 460.3,484.6 462.4,484.8 464.5,485.0 466.7,485.3 468.8,485.5 470.9,485.7 473.0,485.9 475.2,486.2 477.3,486.4 479.4,486.6 481.5,486.9 483.6,487.1 485.7,487.3 487.8,487.6 489.9,487.8 492.0,488.1 494.1,488.3 496.2,488.5 498.3,488.8 500.4,489.0 502.5,489.3 504.6,489.5 506.7,489.8 508.8,490.1 510.9,490.3 513.0,490.6 515.1,490.8 517.1,491.1 519.2,491.4 521.3,491.6 523.4,491.9 525.5,492.2 527.5,492.4 529.6,492.7 531.7,493.0 533.7,493.3 535.8,493.5 537.9,493.8 539.9,494.1 542.0,494.4 544.1,494.7 546.1,494.9 548.2,495.2 550.3,495.5 552.3,495.8 554.4,496.1 556.4,496.4 558.5,496.7 560.5,497.0 562.6,497.3 564.6,497.6 566.7,497.9 568.7,498.2 570.7,498.5 572.8,498.8 574.8,499.1 576.9,499.4 578.9,499.7 580.9,500.0 583.0,500.3 585.0,500.7 587.0,501.0" fill="none" stroke="#4a94ff" stroke-width="1.25"/><polyline points="249.0,480.1 251.3,480.2 253.6,480.2 255.9,480.2 258.3,480.2 260.6,480.2 262.9,480.3 265.2,480.3 267.5,480.3 269.8,480.4 272.2,480.4 274.5,480.4 276.8,480.5 279.1,480.5 281.4,480.6 283.7,480.6 286.0,480.7 288.2,480.7 290.5,480.8 292.8,480.8 295.1,480.9 297.4,481.0 299.7,481.0 301.9,481.1 304.2,481.2 306.5,481.3 308.8,481.3 311.0,481.4 313.3,481.5 315.5,481.6 317.8,481.7 320.1,481.8 322.3,481.8 324.6,481.9 326.8,482.0 329.1,482.1 331.3,482.2 333.6,482.3 335.8,482.4 338.0,482.5 340.3,482.7 342.5,482.8 344.7,482.9 347.0,483.0 349.2,483.1 351.4,483.2 353.6,483.4 355.9,483.5 358.1,483.6 360.3,483.7 362.5,483.9 364.7,484.0 366.9,484.1 369.1,484.3 371.3,484.4 373.5,484.6 375.7,484.7 377.9,484.9 380.1,485.0 382.3,485.2 384.5,485.3 386.7,485.5 388.9,485.6 391.1,485.8 393.3,485.9 395.5,486.1 397.6,486.3 399.8,486.4 402.0,486.6 404.2,486.8 406.3,487.0 408.5,487.1 410.7,487.3 412.9,487.5 415.0,487.7 417.2,487.8 419.3,488.0 421.5,488.2 423.7,488.4 425.8,488.6 428.0,488.8 430.1,489.0 432.3,489.2 434.4,489.4 436.6,489.6 438.7,489.8 440.8,490.0 443.0,490.2 445.1,490.4 447.3,490.6 449.4,490.8 451.5,491.0 453.6,491.3 455.8,491.5 457.9,491.7 460.0,491.9 462.2,492.1 464.3,492.4 466.4,492.6 468.5,492.8 470.6,493.0 472.7,493.3 474.9,493.5 477.0,493.7 479.1,494.0 481.2,494.2 483.3,494.5 485.4,494.7 487.5,494.9 489.6,495.2 491.7,495.4 493.8,495.7 495.9,495.9 498.0,496.2 500.1,496.4 502.2,496.7 504.2,497.0 506.3,497.2 508.4,497.5 510.5,497.7 512.6,498.0 514.7,498.3 516.7,498.5 518.8,498.8 520.9,499.1 523.0,499.4 525.0,499.6 527.1,499.9 529.2,500.2 531.2,500.5 533.3,500.7 535.4,501.0 537.4,501.3 539.5,501.6 541.6,501.9 543.6,502.2 545.7,502.5 547.7,502.7 549.8,503.0 551.8,503.3 553.9,503.6 555.9,503.9 558.0,504.2 560.0,504.5 562.1,504.8 564.1,505.1 566.1,505.4 568.2,505.7" fill="none" stroke="#4a94ff" stroke-width="1.25"/><g clip-path="url(#thick)"><g clip-path="url(#b1)" stroke="#1a6dff" stroke-width="1.95"><line x1="268.0" y1="103.9" x2="336.9" y2="35.0" /><line x1="268.0" y1="189.2" x2="422.2" y2="35.0" /><line x1="268.0" y1="274.5" x2="507.5" y2="35.0" /><line x1="268.0" y1="359.8" x2="569.0" y2="58.8" /><line x1="268.0" y1="445.1" x2="569.0" y2="144.1" /><line x1="312.4" y1="486.0" x2="569.0" y2="229.4" /><line x1="397.7" y1="486.0" x2="569.0" y2="314.7" /><line x1="483.0" y1="486.0" x2="569.0" y2="400.0" /><line x1="568.3" y1="486.0" x2="569.0" y2="485.3" /><line x1="268.0" y1="445.9" x2="308.1" y2="486.0" /><line x1="268.0" y1="405.6" x2="348.4" y2="486.0" /><line x1="268.0" y1="366.9" x2="387.1" y2="486.0" /><line x1="268.0" y1="329.6" x2="424.4" y2="486.0" /><line x1="268.0" y1="293.6" x2="460.4" y2="486.0" /><line x1="268.0" y1="258.9" x2="495.1" y2="486.0" /><line x1="268.0" y1="225.4" x2="528.6" y2="486.0" /><line x1="268.0" y1="192.9" x2="561.1" y2="486.0" /><line x1="268.0" y1="161.5" x2="569.0" y2="462.5" /><line x1="268.0" y1="131.0" x2="569.0" y2="432.0" /><line x1="268.0" y1="101.4" x2="569.0" y2="402.4" /><line x1="268.0" y1="72.7" x2="569.0" y2="373.7" /><line x1="268.0" y1="44.8" x2="569.0" y2="345.8" /><line x1="285.4" y1="35.0" x2="569.0" y2="318.6" /><line x1="311.8" y1="35.0" x2="569.0" y2="292.2" /><line x1="337.6" y1="35.0" x2="569.0" y2="266.4" /><line x1="362.7" y1="35.0" x2="569.0" y2="241.3" /><line x1="387.2" y1="35.0" x2="569.0" y2="216.8" /><line x1="411.1" y1="35.0" x2="569.0" y2="192.9" /><line x1="434.5" y1="35.0" x2="569.0" y2="169.5" /><line x1="457.3" y1="35.0" x2="569.0" y2="146.7" /><line x1="479.6" y1="35.0" x2="569.0" y2="124.4" /><line x1="501.5" y1="35.0" x2="569.0" y2="102.5" /><line x1="522.8" y1="35.0" x2="569.0" y2="81.2" /><line x1="543.7" y1="35.0" x2="569.0" y2="60.3" /><line x1="564.2" y1="35.0" x2="569.0" y2="39.8" /></g><g clip-path="url(#b2)" stroke="#1a6dff" stroke-width="1.72"><line x1="268.0" y1="103.9" x2="336.9" y2="35.0" /><line x1="268.0" y1="189.2" x2="422.2" y2="35.0" /><line x1="268.0" y1="274.5" x2="507.5" y2="35.0" /><line x1="268.0" y1="359.8" x2="569.0" y2="58.8" /><line x1="268.0" y1="445.1" x2="569.0" y2="144.1" /><line x1="312.4" y1="486.0" x2="569.0" y2="229.4" /><line x1="397.7" y1="486.0" x2="569.0" y2="314.7" /><line x1="483.0" y1="486.0" x2="569.0" y2="400.0" /><line x1="568.3" y1="486.0" x2="569.0" y2="485.3" /><line x1="268.0" y1="445.9" x2="308.1" y2="486.0" /><line x1="268.0" y1="405.6" x2="348.4" y2="486.0" /><line x1="268.0" y1="366.9" x2="387.1" y2="486.0" /><line x1="268.0" y1="329.6" x2="424.4" y2="486.0" /><line x1="268.0" y1="293.6" x2="460.4" y2="486.0" /><line x1="268.0" y1="258.9" x2="495.1" y2="486.0" /><line x1="268.0" y1="225.4" x2="528.6" y2="486.0" /><line x1="268.0" y1="192.9" x2="561.1" y2="486.0" /><line x1="268.0" y1="161.5" x2="569.0" y2="462.5" /><line x1="268.0" y1="131.0" x2="569.0" y2="432.0" /><line x1="268.0" y1="101.4" x2="569.0" y2="402.4" /><line x1="268.0" y1="72.7" x2="569.0" y2="373.7" /><line x1="268.0" y1="44.8" x2="569.0" y2="345.8" /><line x1="285.4" y1="35.0" x2="569.0" y2="318.6" /><line x1="311.8" y1="35.0" x2="569.0" y2="292.2" /><line x1="337.6" y1="35.0" x2="569.0" y2="266.4" /><line x1="362.7" y1="35.0" x2="569.0" y2="241.3" /><line x1="387.2" y1="35.0" x2="569.0" y2="216.8" /><line x1="411.1" y1="35.0" x2="569.0" y2="192.9" /><line x1="434.5" y1="35.0" x2="569.0" y2="169.5" /><line x1="457.3" y1="35.0" x2="569.0" y2="146.7" /><line x1="479.6" y1="35.0" x2="569.0" y2="124.4" /><line x1="501.5" y1="35.0" x2="569.0" y2="102.5" /><line x1="522.8" y1="35.0" x2="569.0" y2="81.2" /><line x1="543.7" y1="35.0" x2="569.0" y2="60.3" /><line x1="564.2" y1="35.0" x2="569.0" y2="39.8" /></g><g clip-path="url(#b3)" stroke="#1a6dff" stroke-width="1.6"><line x1="268.0" y1="103.9" x2="336.9" y2="35.0" /><line x1="268.0" y1="189.2" x2="422.2" y2="35.0" /><line x1="268.0" y1="274.5" x2="507.5" y2="35.0" /><line x1="268.0" y1="359.8" x2="569.0" y2="58.8" /><line x1="268.0" y1="445.1" x2="569.0" y2="144.1" /><line x1="312.4" y1="486.0" x2="569.0" y2="229.4" /><line x1="397.7" y1="486.0" x2="569.0" y2="314.7" /><line x1="483.0" y1="486.0" x2="569.0" y2="400.0" /><line x1="568.3" y1="486.0" x2="569.0" y2="485.3" /><line x1="268.0" y1="445.9" x2="308.1" y2="486.0" /><line x1="268.0" y1="405.6" x2="348.4" y2="486.0" /><line x1="268.0" y1="366.9" x2="387.1" y2="486.0" /><line x1="268.0" y1="329.6" x2="424.4" y2="486.0" /><line x1="268.0" y1="293.6" x2="460.4" y2="486.0" /><line x1="268.0" y1="258.9" x2="495.1" y2="486.0" /><line x1="268.0" y1="225.4" x2="528.6" y2="486.0" /><line x1="268.0" y1="192.9" x2="561.1" y2="486.0" /><line x1="268.0" y1="161.5" x2="569.0" y2="462.5" /><line x1="268.0" y1="131.0" x2="569.0" y2="432.0" /><line x1="268.0" y1="101.4" x2="569.0" y2="402.4" /><line x1="268.0" y1="72.7" x2="569.0" y2="373.7" /><line x1="268.0" y1="44.8" x2="569.0" y2="345.8" /><line x1="285.4" y1="35.0" x2="569.0" y2="318.6" /><line x1="311.8" y1="35.0" x2="569.0" y2="292.2" /><line x1="337.6" y1="35.0" x2="569.0" y2="266.4" /><line x1="362.7" y1="35.0" x2="569.0" y2="241.3" /><line x1="387.2" y1="35.0" x2="569.0" y2="216.8" /><line x1="411.1" y1="35.0" x2="569.0" y2="192.9" /><line x1="434.5" y1="35.0" x2="569.0" y2="169.5" /><line x1="457.3" y1="35.0" x2="569.0" y2="146.7" /><line x1="479.6" y1="35.0" x2="569.0" y2="124.4" /><line x1="501.5" y1="35.0" x2="569.0" y2="102.5" /><line x1="522.8" y1="35.0" x2="569.0" y2="81.2" /><line x1="543.7" y1="35.0" x2="569.0" y2="60.3" /><line x1="564.2" y1="35.0" x2="569.0" y2="39.8" /></g></g><g clip-path="url(#thin)" stroke="#1a6dff" stroke-width="1.2"><line x1="268.0" y1="103.9" x2="336.9" y2="35.0" /><line x1="268.0" y1="189.2" x2="422.2" y2="35.0" /><line x1="268.0" y1="274.5" x2="507.5" y2="35.0" /><line x1="268.0" y1="359.8" x2="569.0" y2="58.8" /><line x1="268.0" y1="445.1" x2="569.0" y2="144.1" /><line x1="312.4" y1="486.0" x2="569.0" y2="229.4" /><line x1="397.7" y1="486.0" x2="569.0" y2="314.7" /><line x1="483.0" y1="486.0" x2="569.0" y2="400.0" /><line x1="568.3" y1="486.0" x2="569.0" y2="485.3" /><line x1="268.0" y1="445.9" x2="308.1" y2="486.0" /><line x1="268.0" y1="405.6" x2="348.4" y2="486.0" /><line x1="268.0" y1="366.9" x2="387.1" y2="486.0" /><line x1="268.0" y1="329.6" x2="424.4" y2="486.0" /><line x1="268.0" y1="293.6" x2="460.4" y2="486.0" /><line x1="268.0" y1="258.9" x2="495.1" y2="486.0" /><line x1="268.0" y1="225.4" x2="528.6" y2="486.0" /><line x1="268.0" y1="192.9" x2="561.1" y2="486.0" /><line x1="268.0" y1="161.5" x2="569.0" y2="462.5" /><line x1="268.0" y1="131.0" x2="569.0" y2="432.0" /><line x1="268.0" y1="101.4" x2="569.0" y2="402.4" /><line x1="268.0" y1="72.7" x2="569.0" y2="373.7" /><line x1="268.0" y1="44.8" x2="569.0" y2="345.8" /><line x1="285.4" y1="35.0" x2="569.0" y2="318.6" /><line x1="311.8" y1="35.0" x2="569.0" y2="292.2" /><line x1="337.6" y1="35.0" x2="569.0" y2="266.4" /><line x1="362.7" y1="35.0" x2="569.0" y2="241.3" /><line x1="387.2" y1="35.0" x2="569.0" y2="216.8" /><line x1="411.1" y1="35.0" x2="569.0" y2="192.9" /><line x1="434.5" y1="35.0" x2="569.0" y2="169.5" /><line x1="457.3" y1="35.0" x2="569.0" y2="146.7" /><line x1="479.6" y1="35.0" x2="569.0" y2="124.4" /><line x1="501.5" y1="35.0" x2="569.0" y2="102.5" /><line x1="522.8" y1="35.0" x2="569.0" y2="81.2" /><line x1="543.7" y1="35.0" x2="569.0" y2="60.3" /><line x1="564.2" y1="35.0" x2="569.0" y2="39.8" /></g><polyline points="329.0,488.8 329.8,487.5 330.7,486.2 331.5,484.9 332.3,483.6 333.2,482.3 334.1,481.0 334.9,479.7 335.8,478.3 336.7,476.9 337.6,475.6 338.5,474.2 339.4,472.8 340.3,471.4 341.2,469.9 342.2,468.5 343.1,467.0 344.1,465.6 345.0,464.1 346.0,462.6 347.0,461.1 348.0,459.5 349.0,458.0 350.0,456.4 351.1,454.8 352.1,453.2 353.2,451.6 354.2,450.0 355.3,448.3 356.4,446.6 357.5,444.9 358.6,443.2 359.8,441.5 360.9,439.7 362.1,438.0 363.3,436.2 364.5,434.4 365.7,432.5 366.9,430.6 368.2,428.8 369.4,426.8 370.7,424.9 372.0,422.9 373.3,420.9 374.6,418.9 376.0,416.9 377.4,414.8 378.8,412.7 380.2,410.5 381.6,408.4 383.1,406.2 384.6,403.9 386.1,401.6 387.6,399.3 389.2,397.0 390.8,394.6 392.4,392.2 394.0,389.7 395.7,387.2 397.4,384.6 399.2,382.0 400.9,379.4 402.7,376.7 404.6,373.9 406.5,371.1 408.4,368.3 410.3,365.4 412.3,362.4 414.4,359.4 416.5,356.3 418.6,353.1 420.8,349.9 423.0,346.6 425.3,343.2 427.7,339.7 430.1,336.2 432.6,332.5 435.1,328.8 437.7,324.9 440.4,321.0 443.2,317.0 446.0,312.8 448.9,308.5 452.0,304.1 455.1,299.5 458.3,294.8 461.7,289.9 465.1,284.9 468.7,279.7 472.5,274.3 476.4,268.6 480.4,262.8 484.7,256.7 489.1,250.3 493.7,243.6 498.6,236.7 503.7,229.3 509.2,221.6 514.9,213.4 521.0,204.7 527.5,195.5 534.5,185.6 542.0,175.1 550.1,163.6 559.0,151.2 568.7,137.6 579.5,122.6" fill="none" stroke="#808080" stroke-width="1" stroke-dasharray="3,4"/><polyline points="413.7,494.4 414.4,493.2 415.2,491.8 415.9,490.5 416.7,489.2 417.5,487.9 418.3,486.5 419.1,485.2 419.9,483.8 420.7,482.4 421.5,481.0 422.4,479.6 423.2,478.2 424.0,476.7 424.9,475.3 425.8,473.8 426.6,472.3 427.5,470.8 428.4,469.3 429.3,467.8 430.2,466.2 431.1,464.7 432.1,463.1 433.0,461.5 434.0,459.9 434.9,458.3 435.9,456.6 436.9,455.0 437.9,453.3 438.9,451.6 440.0,449.9 441.0,448.1 442.0,446.4 443.1,444.6 444.2,442.8 445.3,440.9 446.4,439.1 447.5,437.2 448.6,435.3 449.8,433.4 451.0,431.5 452.2,429.5 453.4,427.5 454.6,425.5 455.8,423.4 457.1,421.3 458.4,419.2 459.7,417.1 461.0,414.9 462.3,412.7 463.7,410.4 465.0,408.2 466.4,405.9 467.9,403.5 469.3,401.1 470.8,398.7 472.3,396.2 473.8,393.7 475.4,391.2 477.0,388.6 478.6,386.0 480.3,383.3 481.9,380.5 483.7,377.7 485.4,374.9 487.2,372.0 489.0,369.0 490.9,366.0 492.8,363.0 494.7,359.8 496.7,356.6 498.8,353.3 500.9,350.0 503.0,346.5 505.2,343.0 507.4,339.4 509.8,335.7 512.1,331.9 514.6,328.0 517.1,324.0 519.7,319.9 522.3,315.7 525.1,311.3 527.9,306.9 530.9,302.2 533.9,297.5 537.0,292.5 540.3,287.4 543.7,282.1 547.2,276.7 550.8,271.0 554.6,265.0 558.6,258.8 562.8,252.4 567.2,245.6 571.7,238.6 576.6,231.1 581.7,223.3 587.1,215.0 592.9,206.3 599.0,196.9 605.6,186.9 612.7,176.2 620.4,164.7 628.8,152.1 638.0,138.4 648.2,123.2" fill="none" stroke="#808080" stroke-width="1" stroke-dasharray="3,4"/><polyline points="496.1,503.1 496.8,501.8 497.5,500.4 498.2,499.1 498.9,497.8 499.6,496.4 500.3,495.0 501.0,493.6 501.8,492.2 502.5,490.8 503.2,489.4 504.0,487.9 504.8,486.5 505.5,485.0 506.3,483.5 507.1,482.0 507.9,480.5 508.7,479.0 509.5,477.5 510.3,475.9 511.2,474.3 512.0,472.7 512.9,471.1 513.7,469.5 514.6,467.9 515.5,466.2 516.4,464.5 517.3,462.8 518.2,461.1 519.1,459.4 520.0,457.6 521.0,455.8 522.0,454.0 522.9,452.2 523.9,450.4 524.9,448.5 525.9,446.6 527.0,444.7 528.0,442.8 529.1,440.8 530.1,438.9 531.2,436.9 532.3,434.8 533.4,432.8 534.6,430.7 535.7,428.5 536.9,426.4 538.1,424.2 539.3,422.0 540.5,419.7 541.8,417.5 543.0,415.1 544.3,412.8 545.6,410.4 547.0,408.0 548.3,405.5 549.7,403.0 551.1,400.4 552.6,397.9 554.0,395.2 555.5,392.5 557.0,389.8 558.6,387.0 560.2,384.2 561.8,381.3 563.4,378.3 565.1,375.3 566.8,372.3 568.6,369.1 570.4,365.9 572.2,362.7 574.1,359.3 576.0,355.9 578.0,352.4 580.1,348.8 582.1,345.2 584.3,341.4 586.5,337.6 588.8,333.6 591.1,329.6 593.5,325.4 596.0,321.1 598.5,316.7 601.1,312.1 603.9,307.4 606.7,302.6 609.6,297.6 612.6,292.4 615.8,287.0 619.1,281.5 622.5,275.7 626.0,269.7 629.7,263.4 633.6,256.8 637.7,250.0 642.0,242.8 646.5,235.3 651.3,227.3 656.4,218.9 661.8,210.0 667.6,200.6 673.8,190.5 680.4,179.6 687.7,167.9 695.6,155.2 704.3,141.3 713.9,125.9" fill="none" stroke="#808080" stroke-width="1" stroke-dasharray="3,4"/><polyline points="435.0,496.5 434.9,495.8 434.7,495.1 434.6,494.4 434.5,493.7 434.3,493.0 434.2,492.3 434.0,491.6 433.9,490.8 433.7,490.1 433.6,489.4 433.4,488.7 433.3,487.9 433.1,487.2 432.9,486.5 432.8,485.7 432.6,485.0 432.5,484.2 432.3,483.5 432.1,482.7 431.9,482.0 431.8,481.2 431.6,480.5 431.4,479.7 431.2,478.9 431.0,478.2 430.8,477.4 430.6,476.6 430.4,475.8 430.2,475.0 430.0,474.2 429.8,473.4 429.6,472.6 429.4,471.8 429.2,471.0 428.9,470.2 428.7,469.4 428.5,468.6 428.2,467.8 428.0,466.9 427.7,466.1 427.5,465.3 427.2,464.4 427.0,463.6 426.7,462.7 426.4,461.9 426.1,461.0 425.9,460.2 425.6,459.3 425.3,458.4 425.0,457.5 424.7,456.7 424.4,455.8 424.1,454.9 423.8,454.0 423.4,453.1 423.1,452.2 422.8,451.3 422.4,450.4 422.1,449.5 421.7,448.5 421.4,447.6 421.0,446.7 420.6,445.7 420.2,444.8 419.8,443.8 419.5,442.9 419.0,441.9 418.6,441.0 418.2,440.0 417.8,439.0 417.4,438.0 416.9,437.0 416.5,436.0 416.0,435.0 415.6,434.0 415.1,433.0 414.6,432.0 414.1,431.0 413.6,430.0 413.1,428.9 412.6,427.9 412.0,426.8 411.5,425.8 411.0,424.7 410.4,423.7 409.8,422.6 409.3,421.5 408.7,420.4 408.1,419.3 407.5,418.2 406.8,417.1 406.2,416.0 405.6,414.9 405.0,413.7 404.3,412.6 403.7,411.5 403.1,410.3 402.4,409.2 401.8,408.0 401.1,406.8 400.4,405.6 399.7,404.4 399.0,403.2 398.3,402.0 397.6,400.8 396.8,399.6 396.0,398.4 395.3,397.1 394.5,395.9 393.7,394.6 392.8,393.4 392.0,392.1 391.1,390.8 390.2,389.5 389.2,388.2 388.2,386.9 387.2,385.6 386.1,384.3 385.0,382.9 384.0,381.6 382.8,380.2 381.7,378.9 380.6,377.5 379.4,376.1 378.3,374.7 377.1,373.3 375.8,371.9 374.6,370.5 373.4,369.0 372.1,367.6 370.8,366.1 369.5,364.7 368.2,363.2 366.9,361.7 365.6,360.2 364.2,358.6 362.9,357.1 361.5,355.6 360.1,354.0 358.7,352.5 357.2,350.9 355.8,349.3 354.3,347.7 352.8,346.0 351.2,344.4 349.7,342.8 348.1,341.1 346.6,339.4 345.0,337.7 343.3,336.0 341.7,334.3 340.0,332.6 338.3,330.8 336.6,329.0 335.0,327.2 333.3,325.4 331.5,323.6 329.8,321.8 328.0,319.9 326.2,318.0 324.4,316.1 322.6,314.2 320.7,312.3 318.8,310.3 316.9,308.3 315.0,306.3 313.1,304.3 311.1,302.2 309.1,300.2 307.0,298.1 305.0,296.0 302.9,293.8 300.8,291.6 298.6,289.4 296.5,287.2 294.3,284.9 292.0,282.6 289.8,280.3 287.5,278.0 285.1,275.6 282.8,273.2 280.4,270.7 277.9,268.2 275.4,265.7 272.9,263.1 270.4,260.5 267.8,257.9 265.1,255.2 262.4,252.4 259.7,249.6 256.9,246.8 254.1,243.9 251.2,240.9 248.2,237.9 245.1,234.9 242.0,231.7 238.8,228.5 235.6,225.3 232.2,221.9 228.8,218.5 225.3,215.0 221.8,211.4 218.1,207.7 214.3,203.9 210.4,200.0 206.4,196.0 202.3,191.9 198.1,187.7 193.7,183.3 189.2,178.7 184.5,174.0 179.6,169.1 174.5,164.0 169.3,158.7 163.7,153.2 157.9,147.4 151.8,141.2 145.4,134.8 138.5,127.9 131.2,120.5" fill="none" stroke="#b94cff" stroke-width="1.15" stroke-dasharray="4.6,3"/><polyline points="470.7,500.1 470.7,499.4 470.7,498.7 470.7,498.0 470.6,497.3 470.6,496.6 470.6,495.9 470.6,495.2 470.6,494.5 470.5,493.8 470.5,493.0 470.5,492.3 470.5,491.6 470.4,490.8 470.4,490.1 470.4,489.4 470.3,488.6 470.3,487.9 470.2,487.1 470.2,486.4 470.1,485.6 470.1,484.9 470.0,484.1 469.9,483.4 469.9,482.6 469.8,481.8 469.7,481.0 469.7,480.3 469.6,479.5 469.5,478.7 469.5,477.9 469.4,477.1 469.3,476.3 469.2,475.5 469.2,474.7 469.1,473.9 469.0,473.1 468.9,472.2 468.8,471.4 468.7,470.6 468.6,469.8 468.5,468.9 468.4,468.1 468.3,467.2 468.2,466.4 468.1,465.5 468.0,464.7 467.9,463.8 467.8,463.0 467.7,462.1 467.6,461.2 467.4,460.3 467.3,459.4 467.2,458.6 467.1,457.7 466.9,456.8 466.8,455.9 466.6,454.9 466.5,454.0 466.3,453.1 466.2,452.2 466.0,451.2 465.9,450.3 465.7,449.4 465.6,448.4 465.4,447.5 465.2,446.5 465.0,445.5 464.8,444.6 464.7,443.6 464.5,442.6 464.3,441.6 464.1,440.6 463.9,439.6 463.6,438.6 463.4,437.6 463.2,436.6 463.0,435.6 462.8,434.5 462.5,433.5 462.3,432.5 462.0,431.4 461.8,430.3 461.5,429.3 461.2,428.2 461.0,427.1 460.7,426.0 460.4,425.0 460.1,423.9 459.8,422.7 459.5,421.6 459.2,420.5 458.8,419.4 458.5,418.2 458.2,417.1 457.8,415.9 457.5,414.8 457.1,413.6 456.7,412.4 456.3,411.2 455.9,410.0 455.6,408.8 455.3,407.6 455.0,406.4 454.7,405.2 454.4,403.9 454.0,402.7 453.7,401.4 453.3,400.1 452.9,398.9 452.6,397.6 452.2,396.3 451.7,395.0 451.3,393.6 450.9,392.3 450.4,391.0 450.0,389.6 449.5,388.2 449.0,386.9 448.5,385.5 448.0,384.1 447.4,382.7 446.9,381.3 446.3,379.8 445.7,378.4 445.1,376.9 444.4,375.5 443.8,374.0 443.1,372.5 442.4,371.0 441.7,369.5 440.9,367.9 440.0,366.4 439.1,364.8 438.2,363.2 437.3,361.6 436.4,360.0 435.4,358.4 434.4,356.8 433.4,355.1 432.3,353.5 431.2,351.8 430.1,350.1 429.0,348.4 427.8,346.7 426.6,344.9 425.4,343.2 424.2,341.4 422.9,339.6 421.6,337.8 420.2,335.9 418.8,334.1 417.4,332.2 416.0,330.3 414.5,328.4 413.0,326.5 411.5,324.5 409.9,322.6 408.3,320.6 406.7,318.6 405.0,316.5 403.3,314.5 401.5,312.4 399.7,310.3 397.9,308.2 396.1,306.0 394.2,303.9 392.2,301.7 390.3,299.4 388.5,297.2 386.6,294.9 384.7,292.6 382.7,290.3 380.8,287.9 378.7,285.5 376.7,283.1 374.6,280.7 372.4,278.2 370.3,275.6 368.0,273.1 365.8,270.5 363.4,267.9 361.0,265.2 358.5,262.5 356.0,259.7 353.4,256.9 350.8,254.1 348.1,251.2 345.4,248.3 342.6,245.3 339.8,242.3 336.9,239.2 334.0,236.0 331.0,232.8 327.9,229.6 324.6,226.2 321.3,222.8 317.9,219.3 314.4,215.8 310.8,212.2 307.1,208.4 303.4,204.6 299.5,200.7 295.6,196.7 291.5,192.6 287.3,188.4 283.0,184.1 278.6,179.6 274.1,175.0 269.4,170.2 264.5,165.3 259.4,160.1 254.1,154.8 248.6,149.3 242.9,143.5 236.9,137.5 230.6,131.2 223.9,124.5 216.9,117.5 209.5,110.0 201.5,102.1" fill="none" stroke="#b94cff" stroke-width="1.15" stroke-dasharray="4.6,3"/><polyline points="504.7,504.3 504.7,503.6 504.8,502.9 504.9,502.2 505.0,501.5 505.1,500.8 505.2,500.1 505.2,499.4 505.3,498.7 505.4,498.0 505.5,497.2 505.6,496.5 505.7,495.8 505.8,495.1 505.8,494.3 505.9,493.6 506.0,492.9 506.1,492.1 506.2,491.4 506.3,490.6 506.3,489.9 506.4,489.1 506.4,488.4 506.5,487.6 506.5,486.8 506.6,486.1 506.6,485.3 506.6,484.5 506.7,483.7 506.7,483.0 506.8,482.2 506.8,481.4 506.9,480.6 506.9,479.8 506.9,479.0 507.0,478.2 507.0,477.4 507.1,476.5 507.1,475.7 507.1,474.9 507.2,474.1 507.2,473.2 507.2,472.4 507.3,471.6 507.3,470.7 507.3,469.9 507.4,469.0 507.4,468.1 507.4,467.3 507.5,466.4 507.5,465.5 507.5,464.7 507.6,463.8 507.6,462.9 507.6,462.0 507.6,461.1 507.7,460.2 507.7,459.3 507.7,458.4 507.7,457.5 507.8,456.5 507.8,455.6 507.8,454.7 507.8,453.7 507.8,452.8 507.9,451.8 507.9,450.9 507.9,449.9 508.0,449.0 508.0,448.0 508.1,447.0 508.2,446.0 508.2,445.0 508.3,444.0 508.4,443.0 508.4,442.0 508.5,441.0 508.6,440.0 508.6,439.0 508.7,437.9 508.7,436.9 508.8,435.8 508.8,434.8 508.9,433.7 508.9,432.6 509.0,431.6 509.0,430.5 509.1,429.4 509.1,428.3 509.2,427.2 509.2,426.1 509.2,424.9 509.3,423.8 509.3,422.7 509.3,421.5 509.4,420.4 509.4,419.2 509.4,418.0 509.4,416.9 509.4,415.7 509.5,414.5 509.5,413.3 509.5,412.0 509.5,410.8 509.5,409.6 509.5,408.3 509.5,407.1 509.4,405.8 509.4,404.5 509.4,403.3 509.4,402.0 509.4,400.7 509.3,399.3 509.3,398.0 509.3,396.7 509.3,395.3 509.3,394.0 509.3,392.6 509.3,391.2 509.2,389.8 509.2,388.4 509.2,387.0 509.1,385.6 509.0,384.1 509.0,382.7 508.9,381.2 508.8,379.7 508.7,378.2 508.6,376.7 508.5,375.2 508.4,373.6 508.3,372.0 508.2,370.5 508.0,368.9 507.8,367.3 507.7,365.7 507.5,364.0 507.3,362.4 507.1,360.7 506.9,359.0 506.6,357.3 506.4,355.6 506.1,353.8 505.8,352.1 505.5,350.3 505.2,348.5 504.8,346.7 504.4,344.8 503.9,342.9 503.5,341.1 503.0,339.1 502.5,337.2 502.0,335.3 501.4,333.3 500.9,331.3 500.2,329.3 499.6,327.2 498.9,325.1 498.2,323.0 497.5,320.9 496.7,318.7 495.8,316.5 495.0,314.3 494.1,312.1 493.1,309.8 492.1,307.5 491.0,305.2 489.9,302.8 488.8,300.4 487.5,297.9 486.2,295.5 484.9,292.9 483.5,290.4 482.0,287.8 480.4,285.2 478.8,282.5 477.1,279.8 475.3,277.1 473.5,274.3 471.5,271.4 469.5,268.6 467.4,265.6 465.2,262.7 462.9,259.6 460.5,256.6 458.0,253.4 455.5,250.3 452.9,247.0 450.2,243.7 447.5,240.4 444.6,237.0 441.7,233.5 438.7,230.0 435.5,226.4 432.3,222.7 428.9,218.9 425.5,215.1 421.9,211.2 418.3,207.2 414.5,203.1 410.6,198.9 406.7,194.6 402.6,190.2 398.4,185.7 394.0,181.1 389.6,176.3 385.0,171.5 380.2,166.4 375.3,161.2 370.3,155.8 365.0,150.3 359.2,144.5 353.2,138.6 346.9,132.3 340.3,125.9 333.5,119.1 326.3,112.0 318.7,104.5 310.7,96.6 302.2,88.2 293.2,79.2" fill="none" stroke="#b94cff" stroke-width="1.15" stroke-dasharray="4.6,3"/></g><rect x="268" y="35" width="301" height="451" fill="none" stroke="#1a6dff" stroke-width="2"/><line x1="396.2" y1="487.5" x2="569.7" y2="314.0" stroke="#1b8a1b" stroke-width="2.6"/><g clip-path="url(#c2)"><line x1="268.0" y1="371.3" x2="383.1" y2="486.4" stroke="#ffa31a" stroke-width="1.8"/><polyline points="537.8,35.4 528.7,44.1 489.1,100.0 461.5,141.0 433.9,196.3 433.9,198.2 435.8,202.1 429.1,209.7 417.8,225.3 406.3,238.6 391.1,255.8 379.6,269.2 373.9,275.8 364.4,283.5 351.0,294.9 343.4,297.8 342.5,299.4 346.7,308.9 350.9,316.2 346.7,323.6 342.5,334.1 346.7,342.5 355.1,357.2 360.4,367.7 360.4,371.9 355.1,374.0 354.1,378.2 353.1,389.5 355.3,402.9 356.3,418.2 360.1,429.6 351.5,435.3 339.1,440.1 338.2,442.0 347.7,453.5 356.3,462.1 363.0,469.7" fill="none" stroke="#ff0000" stroke-width="3.15" stroke-linejoin="round" stroke-linecap="round"/><line x1="262.0" y1="370.6" x2="304.7" y2="367.8" stroke="#0000ff" stroke-width="1.6"/><polyline points="262.0,371.2 333.0,374.3 334.2,386.0 335.5,392.0 338.6,402.0 335.5,408.5 330.5,413.5 328.5,415.3 314.6,417.4 262.0,427.6" fill="none" stroke="#0000ff" stroke-width="3.15" stroke-linejoin="round" stroke-linecap="round"/><polyline points="262.0,432.0 268.0,432.2 276.0,432.9 297.0,436.6 311.5,437.8 321.0,440.2 329.5,443.3 331.5,446.7 323.0,455.8 332.5,466.0" fill="none" stroke="#0000ff" stroke-width="3.15" stroke-linejoin="round" stroke-linecap="round"/><polyline points="326.5,467.6 347.2,468.9" fill="none" stroke="#0000ff" stroke-width="3.15" stroke-linejoin="round" stroke-linecap="round"/></g><line x1="381.0" y1="509.0" x2="412.0" y2="509.0" stroke="#777" stroke-width="1" stroke-dasharray="5,3"/><rect x="200" y="35" width="3" height="451" fill="#5e5868"/><line x1="201.5" y1="35.0" x2="201.5" y2="486.0" stroke="#8c98b0" stroke-width="0.9"/><line x1="195.8" y1="465.0" x2="200.0" y2="465.0" stroke="#222" stroke-width="0.95"/><line x1="197.6" y1="463.3" x2="200.0" y2="463.3" stroke="#222" stroke-width="0.95"/><line x1="197.6" y1="461.6" x2="200.0" y2="461.6" stroke="#222" stroke-width="0.95"/><line x1="197.6" y1="459.8" x2="200.0" y2="459.8" stroke="#222" stroke-width="0.95"/><line x1="197.6" y1="458.1" x2="200.0" y2="458.1" stroke="#222" stroke-width="0.95"/><line x1="197.6" y1="456.4" x2="200.0" y2="456.4" stroke="#222" stroke-width="0.95"/><line x1="197.6" y1="454.7" x2="200.0" y2="454.7" stroke="#222" stroke-width="0.95"/><line x1="197.6" y1="453.0" x2="200.0" y2="453.0" stroke="#222" stroke-width="0.95"/><line x1="197.6" y1="451.2" x2="200.0" y2="451.2" stroke="#222" stroke-width="0.95"/><line x1="197.6" y1="449.5" x2="200.0" y2="449.5" stroke="#222" stroke-width="0.95"/><line x1="195.8" y1="447.8" x2="200.0" y2="447.8" stroke="#222" stroke-width="0.95"/><line x1="197.6" y1="446.1" x2="200.0" y2="446.1" stroke="#222" stroke-width="0.95"/><line x1="197.6" y1="444.4" x2="200.0" y2="444.4" stroke="#222" stroke-width="0.95"/><line x1="197.6" y1="442.7" x2="200.0" y2="442.7" stroke="#222" stroke-width="0.95"/><line x1="197.6" y1="441.0" x2="200.0" y2="441.0" stroke="#222" stroke-width="0.95"/><line x1="197.6" y1="439.2" x2="200.0" y2="439.2" stroke="#222" stroke-width="0.95"/><line x1="197.6" y1="437.5" x2="200.0" y2="437.5" stroke="#222" stroke-width="0.95"/><line x1="197.6" y1="435.8" x2="200.0" y2="435.8" stroke="#222" stroke-width="0.95"/><line x1="197.6" y1="434.1" x2="200.0" y2="434.1" stroke="#222" stroke-width="0.95"/><line x1="197.6" y1="432.4" x2="200.0" y2="432.4" stroke="#222" stroke-width="0.95"/><line x1="195.8" y1="430.7" x2="200.0" y2="430.7" stroke="#222" stroke-width="0.95"/><line x1="197.6" y1="428.9" x2="200.0" y2="428.9" stroke="#222" stroke-width="0.95"/><line x1="197.6" y1="427.0" x2="200.0" y2="427.0" stroke="#222" stroke-width="0.95"/><line x1="197.6" y1="425.2" x2="200.0" y2="425.2" stroke="#222" stroke-width="0.95"/><line x1="197.6" y1="423.3" x2="200.0" y2="423.3" stroke="#222" stroke-width="0.95"/><line x1="197.6" y1="421.5" x2="200.0" y2="421.5" stroke="#222" stroke-width="0.95"/><line x1="197.6" y1="419.7" x2="200.0" y2="419.7" stroke="#222" stroke-width="0.95"/><line x1="197.6" y1="417.8" x2="200.0" y2="417.8" stroke="#222" stroke-width="0.95"/><line x1="197.6" y1="416.0" x2="200.0" y2="416.0" stroke="#222" stroke-width="0.95"/><line x1="197.6" y1="414.1" x2="200.0" y2="414.1" stroke="#222" stroke-width="0.95"/><line x1="195.8" y1="412.3" x2="200.0" y2="412.3" stroke="#222" stroke-width="0.95"/><line x1="197.6" y1="410.6" x2="200.0" y2="410.6" stroke="#222" stroke-width="0.95"/><line x1="197.6" y1="408.8" x2="200.0" y2="408.8" stroke="#222" stroke-width="0.95"/><line x1="197.6" y1="407.1" x2="200.0" y2="407.1" stroke="#222" stroke-width="0.95"/><line x1="197.6" y1="405.3" x2="200.0" y2="405.3" stroke="#222" stroke-width="0.95"/><line x1="197.6" y1="403.6" x2="200.0" y2="403.6" stroke="#222" stroke-width="0.95"/><line x1="197.6" y1="401.8" x2="200.0" y2="401.8" stroke="#222" stroke-width="0.95"/><line x1="197.6" y1="400.1" x2="200.0" y2="400.1" stroke="#222" stroke-width="0.95"/><line x1="197.6" y1="398.3" x2="200.0" y2="398.3" stroke="#222" stroke-width="0.95"/><line x1="197.6" y1="396.6" x2="200.0" y2="396.6" stroke="#222" stroke-width="0.95"/><line x1="195.8" y1="394.8" x2="200.0" y2="394.8" stroke="#222" stroke-width="0.95"/><line x1="197.6" y1="393.0" x2="200.0" y2="393.0" stroke="#222" stroke-width="0.95"/><line x1="197.6" y1="391.1" x2="200.0" y2="391.1" stroke="#222" stroke-width="0.95"/><line x1="197.6" y1="389.3" x2="200.0" y2="389.3" stroke="#222" stroke-width="0.95"/><line x1="197.6" y1="387.5" x2="200.0" y2="387.5" stroke="#222" stroke-width="0.95"/><line x1="197.6" y1="385.6" x2="200.0" y2="385.6" stroke="#222" stroke-width="0.95"/><line x1="197.6" y1="383.8" x2="200.0" y2="383.8" stroke="#222" stroke-width="0.95"/><line x1="197.6" y1="382.0" x2="200.0" y2="382.0" stroke="#222" stroke-width="0.95"/><line x1="197.6" y1="380.2" x2="200.0" y2="380.2" stroke="#222" stroke-width="0.95"/><line x1="197.6" y1="378.3" x2="200.0" y2="378.3" stroke="#222" stroke-width="0.95"/><line x1="195.8" y1="376.5" x2="200.0" y2="376.5" stroke="#222" stroke-width="0.95"/><line x1="197.6" y1="374.6" x2="200.0" y2="374.6" stroke="#222" stroke-width="0.95"/><line x1="197.6" y1="372.8" x2="200.0" y2="372.8" stroke="#222" stroke-width="0.95"/><line x1="197.6" y1="370.9" x2="200.0" y2="370.9" stroke="#222" stroke-width="0.95"/><line x1="197.6" y1="369.1" x2="200.0" y2="369.1" stroke="#222" stroke-width="0.95"/><line x1="197.6" y1="367.2" x2="200.0" y2="367.2" stroke="#222" stroke-width="0.95"/><line x1="197.6" y1="365.3" x2="200.0" y2="365.3" stroke="#222" stroke-width="0.95"/><line x1="197.6" y1="363.5" x2="200.0" y2="363.5" stroke="#222" stroke-width="0.95"/><line x1="197.6" y1="361.6" x2="200.0" y2="361.6" stroke="#222" stroke-width="0.95"/><line x1="197.6" y1="359.8" x2="200.0" y2="359.8" stroke="#222" stroke-width="0.95"/><line x1="195.8" y1="357.9" x2="200.0" y2="357.9" stroke="#222" stroke-width="0.95"/><line x1="197.6" y1="356.0" x2="200.0" y2="356.0" stroke="#222" stroke-width="0.95"/><line x1="197.6" y1="354.0" x2="200.0" y2="354.0" stroke="#222" stroke-width="0.95"/><line x1="197.6" y1="352.1" x2="200.0" y2="352.1" stroke="#222" stroke-width="0.95"/><line x1="197.6" y1="350.2" x2="200.0" y2="350.2" stroke="#222" stroke-width="0.95"/><line x1="197.6" y1="348.2" x2="200.0" y2="348.2" stroke="#222" stroke-width="0.95"/><line x1="197.6" y1="346.3" x2="200.0" y2="346.3" stroke="#222" stroke-width="0.95"/><line x1="197.6" y1="344.4" x2="200.0" y2="344.4" stroke="#222" stroke-width="0.95"/><line x1="197.6" y1="342.5" x2="200.0" y2="342.5" stroke="#222" stroke-width="0.95"/><line x1="197.6" y1="340.5" x2="200.0" y2="340.5" stroke="#222" stroke-width="0.95"/><line x1="195.8" y1="338.6" x2="200.0" y2="338.6" stroke="#222" stroke-width="0.95"/><line x1="197.6" y1="336.7" x2="200.0" y2="336.7" stroke="#222" stroke-width="0.95"/><line x1="197.6" y1="334.8" x2="200.0" y2="334.8" stroke="#222" stroke-width="0.95"/><line x1="197.6" y1="332.9" x2="200.0" y2="332.9" stroke="#222" stroke-width="0.95"/><line x1="197.6" y1="331.0" x2="200.0" y2="331.0" stroke="#222" stroke-width="0.95"/><line x1="197.6" y1="329.1" x2="200.0" y2="329.1" stroke="#222" stroke-width="0.95"/><line x1="197.6" y1="327.3" x2="200.0" y2="327.3" stroke="#222" stroke-width="0.95"/><line x1="197.6" y1="325.4" x2="200.0" y2="325.4" stroke="#222" stroke-width="0.95"/><line x1="197.6" y1="323.5" x2="200.0" y2="323.5" stroke="#222" stroke-width="0.95"/><line x1="197.6" y1="321.6" x2="200.0" y2="321.6" stroke="#222" stroke-width="0.95"/><line x1="195.8" y1="319.7" x2="200.0" y2="319.7" stroke="#222" stroke-width="0.95"/><line x1="197.6" y1="317.8" x2="200.0" y2="317.8" stroke="#222" stroke-width="0.95"/><line x1="197.6" y1="315.9" x2="200.0" y2="315.9" stroke="#222" stroke-width="0.95"/><line x1="197.6" y1="313.9" x2="200.0" y2="313.9" stroke="#222" stroke-width="0.95"/><line x1="197.6" y1="312.0" x2="200.0" y2="312.0" stroke="#222" stroke-width="0.95"/><line x1="197.6" y1="310.1" x2="200.0" y2="310.1" stroke="#222" stroke-width="0.95"/><line x1="197.6" y1="308.2" x2="200.0" y2="308.2" stroke="#222" stroke-width="0.95"/><line x1="197.6" y1="306.3" x2="200.0" y2="306.3" stroke="#222" stroke-width="0.95"/><line x1="197.6" y1="304.3" x2="200.0" y2="304.3" stroke="#222" stroke-width="0.95"/><line x1="197.6" y1="302.4" x2="200.0" y2="302.4" stroke="#222" stroke-width="0.95"/><line x1="195.8" y1="300.5" x2="200.0" y2="300.5" stroke="#222" stroke-width="0.95"/><line x1="197.6" y1="298.5" x2="200.0" y2="298.5" stroke="#222" stroke-width="0.95"/><line x1="197.6" y1="296.5" x2="200.0" y2="296.5" stroke="#222" stroke-width="0.95"/><line x1="197.6" y1="294.5" x2="200.0" y2="294.5" stroke="#222" stroke-width="0.95"/><line x1="197.6" y1="292.5" x2="200.0" y2="292.5" stroke="#222" stroke-width="0.95"/><line x1="197.6" y1="290.5" x2="200.0" y2="290.5" stroke="#222" stroke-width="0.95"/><line x1="197.6" y1="288.5" x2="200.0" y2="288.5" stroke="#222" stroke-width="0.95"/><line x1="197.6" y1="286.5" x2="200.0" y2="286.5" stroke="#222" stroke-width="0.95"/><line x1="197.6" y1="284.5" x2="200.0" y2="284.5" stroke="#222" stroke-width="0.95"/><line x1="197.6" y1="282.5" x2="200.0" y2="282.5" stroke="#222" stroke-width="0.95"/><line x1="195.8" y1="280.5" x2="200.0" y2="280.5" stroke="#222" stroke-width="0.95"/><line x1="197.6" y1="278.4" x2="200.0" y2="278.4" stroke="#222" stroke-width="0.95"/><line x1="197.6" y1="276.4" x2="200.0" y2="276.4" stroke="#222" stroke-width="0.95"/><line x1="197.6" y1="274.4" x2="200.0" y2="274.4" stroke="#222" stroke-width="0.95"/><line x1="197.6" y1="272.3" x2="200.0" y2="272.3" stroke="#222" stroke-width="0.95"/><line x1="197.6" y1="270.2" x2="200.0" y2="270.2" stroke="#222" stroke-width="0.95"/><line x1="197.6" y1="268.2" x2="200.0" y2="268.2" stroke="#222" stroke-width="0.95"/><line x1="197.6" y1="266.1" x2="200.0" y2="266.1" stroke="#222" stroke-width="0.95"/><line x1="197.6" y1="264.1" x2="200.0" y2="264.1" stroke="#222" stroke-width="0.95"/><line x1="197.6" y1="262.1" x2="200.0" y2="262.1" stroke="#222" stroke-width="0.95"/><line x1="195.8" y1="260.0" x2="200.0" y2="260.0" stroke="#222" stroke-width="0.95"/><line x1="197.6" y1="258.0" x2="200.0" y2="258.0" stroke="#222" stroke-width="0.95"/><line x1="197.6" y1="256.0" x2="200.0" y2="256.0" stroke="#222" stroke-width="0.95"/><line x1="197.6" y1="254.1" x2="200.0" y2="254.1" stroke="#222" stroke-width="0.95"/><line x1="197.6" y1="252.1" x2="200.0" y2="252.1" stroke="#222" stroke-width="0.95"/><line x1="197.6" y1="250.1" x2="200.0" y2="250.1" stroke="#222" stroke-width="0.95"/><line x1="197.6" y1="248.1" x2="200.0" y2="248.1" stroke="#222" stroke-width="0.95"/><line x1="197.6" y1="246.1" x2="200.0" y2="246.1" stroke="#222" stroke-width="0.95"/><line x1="197.6" y1="244.2" x2="200.0" y2="244.2" stroke="#222" stroke-width="0.95"/><line x1="197.6" y1="242.2" x2="200.0" y2="242.2" stroke="#222" stroke-width="0.95"/><line x1="195.8" y1="240.2" x2="200.0" y2="240.2" stroke="#222" stroke-width="0.95"/><line x1="197.6" y1="238.2" x2="200.0" y2="238.2" stroke="#222" stroke-width="0.95"/><line x1="197.6" y1="236.2" x2="200.0" y2="236.2" stroke="#222" stroke-width="0.95"/><line x1="197.6" y1="234.2" x2="200.0" y2="234.2" stroke="#222" stroke-width="0.95"/><line x1="197.6" y1="232.2" x2="200.0" y2="232.2" stroke="#222" stroke-width="0.95"/><line x1="197.6" y1="230.2" x2="200.0" y2="230.2" stroke="#222" stroke-width="0.95"/><line x1="197.6" y1="228.3" x2="200.0" y2="228.3" stroke="#222" stroke-width="0.95"/><line x1="197.6" y1="226.3" x2="200.0" y2="226.3" stroke="#222" stroke-width="0.95"/><line x1="197.6" y1="224.3" x2="200.0" y2="224.3" stroke="#222" stroke-width="0.95"/><line x1="197.6" y1="222.3" x2="200.0" y2="222.3" stroke="#222" stroke-width="0.95"/><line x1="195.8" y1="220.3" x2="200.0" y2="220.3" stroke="#222" stroke-width="0.95"/><line x1="197.6" y1="218.1" x2="200.0" y2="218.1" stroke="#222" stroke-width="0.95"/><line x1="197.6" y1="216.0" x2="200.0" y2="216.0" stroke="#222" stroke-width="0.95"/><line x1="197.6" y1="213.8" x2="200.0" y2="213.8" stroke="#222" stroke-width="0.95"/><line x1="197.6" y1="211.6" x2="200.0" y2="211.6" stroke="#222" stroke-width="0.95"/><line x1="197.6" y1="209.4" x2="200.0" y2="209.4" stroke="#222" stroke-width="0.95"/><line x1="197.6" y1="207.3" x2="200.0" y2="207.3" stroke="#222" stroke-width="0.95"/><line x1="197.6" y1="205.1" x2="200.0" y2="205.1" stroke="#222" stroke-width="0.95"/><line x1="197.6" y1="202.9" x2="200.0" y2="202.9" stroke="#222" stroke-width="0.95"/><line x1="197.6" y1="200.8" x2="200.0" y2="200.8" stroke="#222" stroke-width="0.95"/><line x1="195.8" y1="198.6" x2="200.0" y2="198.6" stroke="#222" stroke-width="0.95"/><line x1="197.6" y1="196.5" x2="200.0" y2="196.5" stroke="#222" stroke-width="0.95"/><line x1="197.6" y1="194.3" x2="200.0" y2="194.3" stroke="#222" stroke-width="0.95"/><line x1="197.6" y1="192.2" x2="200.0" y2="192.2" stroke="#222" stroke-width="0.95"/><line x1="197.6" y1="190.1" x2="200.0" y2="190.1" stroke="#222" stroke-width="0.95"/><line x1="197.6" y1="187.9" x2="200.0" y2="187.9" stroke="#222" stroke-width="0.95"/><line x1="197.6" y1="185.8" x2="200.0" y2="185.8" stroke="#222" stroke-width="0.95"/><line x1="197.6" y1="183.7" x2="200.0" y2="183.7" stroke="#222" stroke-width="0.95"/><line x1="197.6" y1="181.6" x2="200.0" y2="181.6" stroke="#222" stroke-width="0.95"/><line x1="197.6" y1="179.4" x2="200.0" y2="179.4" stroke="#222" stroke-width="0.95"/><line x1="195.8" y1="177.3" x2="200.0" y2="177.3" stroke="#222" stroke-width="0.95"/><line x1="197.6" y1="175.2" x2="200.0" y2="175.2" stroke="#222" stroke-width="0.95"/><line x1="197.6" y1="173.0" x2="200.0" y2="173.0" stroke="#222" stroke-width="0.95"/><line x1="197.6" y1="170.9" x2="200.0" y2="170.9" stroke="#222" stroke-width="0.95"/><line x1="197.6" y1="168.7" x2="200.0" y2="168.7" stroke="#222" stroke-width="0.95"/><line x1="197.6" y1="166.6" x2="200.0" y2="166.6" stroke="#222" stroke-width="0.95"/><line x1="197.6" y1="164.5" x2="200.0" y2="164.5" stroke="#222" stroke-width="0.95"/><line x1="197.6" y1="162.3" x2="200.0" y2="162.3" stroke="#222" stroke-width="0.95"/><line x1="197.6" y1="160.2" x2="200.0" y2="160.2" stroke="#222" stroke-width="0.95"/><line x1="197.6" y1="158.0" x2="200.0" y2="158.0" stroke="#222" stroke-width="0.95"/><line x1="195.8" y1="155.9" x2="200.0" y2="155.9" stroke="#222" stroke-width="0.95"/><line x1="197.6" y1="153.6" x2="200.0" y2="153.6" stroke="#222" stroke-width="0.95"/><line x1="197.6" y1="151.4" x2="200.0" y2="151.4" stroke="#222" stroke-width="0.95"/><line x1="197.6" y1="149.1" x2="200.0" y2="149.1" stroke="#222" stroke-width="0.95"/><line x1="197.6" y1="146.8" x2="200.0" y2="146.8" stroke="#222" stroke-width="0.95"/><line x1="197.6" y1="144.6" x2="200.0" y2="144.6" stroke="#222" stroke-width="0.95"/><line x1="197.6" y1="142.3" x2="200.0" y2="142.3" stroke="#222" stroke-width="0.95"/><line x1="197.6" y1="140.0" x2="200.0" y2="140.0" stroke="#222" stroke-width="0.95"/><line x1="197.6" y1="137.7" x2="200.0" y2="137.7" stroke="#222" stroke-width="0.95"/><line x1="197.6" y1="135.5" x2="200.0" y2="135.5" stroke="#222" stroke-width="0.95"/><line x1="195.8" y1="133.2" x2="200.0" y2="133.2" stroke="#222" stroke-width="0.95"/><line x1="197.6" y1="130.9" x2="200.0" y2="130.9" stroke="#222" stroke-width="0.95"/><line x1="197.6" y1="128.7" x2="200.0" y2="128.7" stroke="#222" stroke-width="0.95"/><line x1="197.6" y1="126.4" x2="200.0" y2="126.4" stroke="#222" stroke-width="0.95"/><line x1="197.6" y1="124.2" x2="200.0" y2="124.2" stroke="#222" stroke-width="0.95"/><line x1="197.6" y1="121.9" x2="200.0" y2="121.9" stroke="#222" stroke-width="0.95"/><line x1="197.6" y1="119.7" x2="200.0" y2="119.7" stroke="#222" stroke-width="0.95"/><line x1="197.6" y1="117.5" x2="200.0" y2="117.5" stroke="#222" stroke-width="0.95"/><line x1="197.6" y1="115.2" x2="200.0" y2="115.2" stroke="#222" stroke-width="0.95"/><line x1="197.6" y1="113.0" x2="200.0" y2="113.0" stroke="#222" stroke-width="0.95"/><line x1="195.8" y1="110.7" x2="200.0" y2="110.7" stroke="#222" stroke-width="0.95"/><line x1="197.6" y1="108.4" x2="200.0" y2="108.4" stroke="#222" stroke-width="0.95"/><line x1="197.6" y1="106.1" x2="200.0" y2="106.1" stroke="#222" stroke-width="0.95"/><line x1="197.6" y1="103.8" x2="200.0" y2="103.8" stroke="#222" stroke-width="0.95"/><line x1="197.6" y1="101.5" x2="200.0" y2="101.5" stroke="#222" stroke-width="0.95"/><line x1="197.6" y1="99.2" x2="200.0" y2="99.2" stroke="#222" stroke-width="0.95"/><line x1="197.6" y1="97.0" x2="200.0" y2="97.0" stroke="#222" stroke-width="0.95"/><line x1="197.6" y1="94.7" x2="200.0" y2="94.7" stroke="#222" stroke-width="0.95"/><line x1="197.6" y1="92.4" x2="200.0" y2="92.4" stroke="#222" stroke-width="0.95"/><line x1="197.6" y1="90.1" x2="200.0" y2="90.1" stroke="#222" stroke-width="0.95"/><line x1="197.6" y1="85.5" x2="200.0" y2="85.5" stroke="#222" stroke-width="0.95"/><line x1="197.6" y1="83.2" x2="200.0" y2="83.2" stroke="#222" stroke-width="0.95"/><line x1="197.6" y1="80.9" x2="200.0" y2="80.9" stroke="#222" stroke-width="0.95"/><line x1="203.0" y1="465.0" x2="206.6" y2="465.0" stroke="#222" stroke-width="0.95"/><line x1="203.0" y1="459.7" x2="204.8" y2="459.7" stroke="#222" stroke-width="0.95"/><line x1="203.0" y1="454.4" x2="204.8" y2="454.4" stroke="#222" stroke-width="0.95"/><line x1="203.0" y1="449.1" x2="204.8" y2="449.1" stroke="#222" stroke-width="0.95"/><line x1="203.0" y1="443.8" x2="204.8" y2="443.8" stroke="#222" stroke-width="0.95"/><line x1="203.0" y1="438.5" x2="206.6" y2="438.5" stroke="#222" stroke-width="0.95"/><line x1="203.0" y1="433.2" x2="204.8" y2="433.2" stroke="#222" stroke-width="0.95"/><line x1="203.0" y1="427.9" x2="204.8" y2="427.9" stroke="#222" stroke-width="0.95"/><line x1="203.0" y1="422.5" x2="204.8" y2="422.5" stroke="#222" stroke-width="0.95"/><line x1="203.0" y1="417.2" x2="204.8" y2="417.2" stroke="#222" stroke-width="0.95"/><line x1="203.0" y1="411.9" x2="206.6" y2="411.9" stroke="#222" stroke-width="0.95"/><line x1="203.0" y1="406.6" x2="204.8" y2="406.6" stroke="#222" stroke-width="0.95"/><line x1="203.0" y1="401.3" x2="204.8" y2="401.3" stroke="#222" stroke-width="0.95"/><line x1="203.0" y1="395.9" x2="204.8" y2="395.9" stroke="#222" stroke-width="0.95"/><line x1="203.0" y1="390.6" x2="204.8" y2="390.6" stroke="#222" stroke-width="0.95"/><line x1="203.0" y1="385.3" x2="206.6" y2="385.3" stroke="#222" stroke-width="0.95"/><line x1="203.0" y1="379.4" x2="204.8" y2="379.4" stroke="#222" stroke-width="0.95"/><line x1="203.0" y1="373.5" x2="204.8" y2="373.5" stroke="#222" stroke-width="0.95"/><line x1="203.0" y1="367.5" x2="204.8" y2="367.5" stroke="#222" stroke-width="0.95"/><line x1="203.0" y1="361.6" x2="204.8" y2="361.6" stroke="#222" stroke-width="0.95"/><line x1="203.0" y1="355.7" x2="206.6" y2="355.7" stroke="#222" stroke-width="0.95"/><line x1="203.0" y1="350.0" x2="204.8" y2="350.0" stroke="#222" stroke-width="0.95"/><line x1="203.0" y1="344.3" x2="204.8" y2="344.3" stroke="#222" stroke-width="0.95"/><line x1="203.0" y1="338.7" x2="204.8" y2="338.7" stroke="#222" stroke-width="0.95"/><line x1="203.0" y1="333.0" x2="204.8" y2="333.0" stroke="#222" stroke-width="0.95"/><line x1="203.0" y1="327.3" x2="206.6" y2="327.3" stroke="#222" stroke-width="0.95"/><line x1="203.0" y1="321.3" x2="204.8" y2="321.3" stroke="#222" stroke-width="0.95"/><line x1="203.0" y1="315.4" x2="204.8" y2="315.4" stroke="#222" stroke-width="0.95"/><line x1="203.0" y1="309.4" x2="204.8" y2="309.4" stroke="#222" stroke-width="0.95"/><line x1="203.0" y1="303.5" x2="204.8" y2="303.5" stroke="#222" stroke-width="0.95"/><line x1="203.0" y1="297.5" x2="206.6" y2="297.5" stroke="#222" stroke-width="0.95"/><line x1="203.0" y1="291.4" x2="204.8" y2="291.4" stroke="#222" stroke-width="0.95"/><line x1="203.0" y1="285.3" x2="204.8" y2="285.3" stroke="#222" stroke-width="0.95"/><line x1="203.0" y1="279.2" x2="204.8" y2="279.2" stroke="#222" stroke-width="0.95"/><line x1="203.0" y1="273.1" x2="204.8" y2="273.1" stroke="#222" stroke-width="0.95"/><line x1="203.0" y1="267.0" x2="206.6" y2="267.0" stroke="#222" stroke-width="0.95"/><line x1="203.0" y1="260.9" x2="204.8" y2="260.9" stroke="#222" stroke-width="0.95"/><line x1="203.0" y1="254.8" x2="204.8" y2="254.8" stroke="#222" stroke-width="0.95"/><line x1="203.0" y1="248.7" x2="204.8" y2="248.7" stroke="#222" stroke-width="0.95"/><line x1="203.0" y1="242.6" x2="204.8" y2="242.6" stroke="#222" stroke-width="0.95"/><line x1="203.0" y1="236.5" x2="206.6" y2="236.5" stroke="#222" stroke-width="0.95"/><line x1="203.0" y1="230.2" x2="204.8" y2="230.2" stroke="#222" stroke-width="0.95"/><line x1="203.0" y1="223.9" x2="204.8" y2="223.9" stroke="#222" stroke-width="0.95"/><line x1="203.0" y1="217.6" x2="204.8" y2="217.6" stroke="#222" stroke-width="0.95"/><line x1="203.0" y1="211.3" x2="204.8" y2="211.3" stroke="#222" stroke-width="0.95"/><line x1="203.0" y1="205.0" x2="206.6" y2="205.0" stroke="#222" stroke-width="0.95"/><line x1="203.0" y1="198.4" x2="204.8" y2="198.4" stroke="#222" stroke-width="0.95"/><line x1="203.0" y1="191.8" x2="204.8" y2="191.8" stroke="#222" stroke-width="0.95"/><line x1="203.0" y1="185.2" x2="204.8" y2="185.2" stroke="#222" stroke-width="0.95"/><line x1="203.0" y1="178.6" x2="204.8" y2="178.6" stroke="#222" stroke-width="0.95"/><line x1="203.0" y1="172.0" x2="206.6" y2="172.0" stroke="#222" stroke-width="0.95"/><line x1="203.0" y1="165.4" x2="204.8" y2="165.4" stroke="#222" stroke-width="0.95"/><line x1="203.0" y1="158.7" x2="204.8" y2="158.7" stroke="#222" stroke-width="0.95"/><line x1="203.0" y1="152.1" x2="204.8" y2="152.1" stroke="#222" stroke-width="0.95"/><line x1="203.0" y1="145.4" x2="204.8" y2="145.4" stroke="#222" stroke-width="0.95"/><line x1="203.0" y1="138.8" x2="206.6" y2="138.8" stroke="#222" stroke-width="0.95"/><line x1="203.0" y1="131.7" x2="204.8" y2="131.7" stroke="#222" stroke-width="0.95"/><line x1="203.0" y1="124.6" x2="204.8" y2="124.6" stroke="#222" stroke-width="0.95"/><line x1="203.0" y1="117.6" x2="204.8" y2="117.6" stroke="#222" stroke-width="0.95"/><line x1="203.0" y1="110.5" x2="204.8" y2="110.5" stroke="#222" stroke-width="0.95"/><line x1="55.3" y1="81.9" x2="33.2" y2="75.2" stroke="#2a2aff" stroke-width="1.05"/><polygon points="33.2,75.2 38.5,70.9 40.5,77.4" fill="#0000ff"/><line x1="55.7" y1="122.0" x2="32.5" y2="119.3" stroke="#2a2aff" stroke-width="1.05"/><polygon points="32.5,119.3 36.9,114.2 40.0,120.2" fill="#0000ff"/><line x1="89.8" y1="163.1" x2="73.4" y2="163.1" stroke="#2a2aff" stroke-width="1.05"/><line x1="73.4" y1="163.1" x2="69.0" y2="157.3" stroke="#2a2aff" stroke-width="1"/><line x1="76.0" y1="163.1" x2="71.6" y2="157.3" stroke="#2a2aff" stroke-width="1"/><line x1="78.6" y1="163.1" x2="74.2" y2="157.3" stroke="#2a2aff" stroke-width="1"/><line x1="81.2" y1="163.1" x2="79.0" y2="160.2" stroke="#2a2aff" stroke-width="1"/><line x1="55.6" y1="183.6" x2="40.2" y2="179.2" stroke="#2a2aff" stroke-width="1.05"/><line x1="40.2" y1="179.2" x2="37.6" y2="172.4" stroke="#2a2aff" stroke-width="1"/><line x1="42.7" y1="179.9" x2="40.1" y2="173.1" stroke="#2a2aff" stroke-width="1"/><line x1="45.2" y1="180.6" x2="42.6" y2="173.8" stroke="#2a2aff" stroke-width="1"/><line x1="47.7" y1="181.3" x2="46.4" y2="177.9" stroke="#2a2aff" stroke-width="1"/><line x1="90.2" y1="211.7" x2="74.0" y2="209.9" stroke="#2a2aff" stroke-width="1.05"/><line x1="74.0" y1="209.9" x2="70.3" y2="203.6" stroke="#2a2aff" stroke-width="1"/><line x1="76.6" y1="210.2" x2="72.9" y2="203.9" stroke="#2a2aff" stroke-width="1"/><line x1="79.2" y1="210.5" x2="75.4" y2="204.2" stroke="#2a2aff" stroke-width="1"/><line x1="81.8" y1="210.8" x2="79.9" y2="207.6" stroke="#2a2aff" stroke-width="1"/><line x1="55.4" y1="252.3" x2="41.2" y2="248.3" stroke="#2a2aff" stroke-width="1.05"/><line x1="41.2" y1="248.3" x2="38.6" y2="241.5" stroke="#2a2aff" stroke-width="1"/><line x1="43.7" y1="249.0" x2="41.1" y2="242.2" stroke="#2a2aff" stroke-width="1"/><line x1="46.2" y1="249.7" x2="43.6" y2="242.9" stroke="#2a2aff" stroke-width="1"/><line x1="48.7" y1="250.4" x2="47.4" y2="247.0" stroke="#2a2aff" stroke-width="1"/><line x1="90.2" y1="247.1" x2="74.0" y2="244.6" stroke="#2a2aff" stroke-width="1.05"/><line x1="74.0" y1="244.6" x2="70.5" y2="238.2" stroke="#2a2aff" stroke-width="1"/><line x1="76.6" y1="245.0" x2="73.1" y2="238.6" stroke="#2a2aff" stroke-width="1"/><line x1="79.1" y1="245.4" x2="75.7" y2="239.0" stroke="#2a2aff" stroke-width="1"/><line x1="81.7" y1="245.8" x2="80.0" y2="242.6" stroke="#2a2aff" stroke-width="1"/><line x1="89.9" y1="276.6" x2="73.9" y2="273.9" stroke="#2a2aff" stroke-width="1.05"/><line x1="73.9" y1="273.9" x2="70.5" y2="267.4" stroke="#2a2aff" stroke-width="1"/><line x1="76.5" y1="274.3" x2="73.1" y2="267.9" stroke="#2a2aff" stroke-width="1"/><line x1="79.0" y1="274.8" x2="75.7" y2="268.3" stroke="#2a2aff" stroke-width="1"/><line x1="81.6" y1="275.2" x2="79.9" y2="272.0" stroke="#2a2aff" stroke-width="1"/><line x1="89.9" y1="301.0" x2="73.9" y2="303.3" stroke="#2a2aff" stroke-width="1.05"/><line x1="73.9" y1="303.3" x2="68.7" y2="298.2" stroke="#2a2aff" stroke-width="1"/><line x1="76.5" y1="302.9" x2="71.3" y2="297.8" stroke="#2a2aff" stroke-width="1"/><line x1="79.0" y1="302.6" x2="73.9" y2="297.4" stroke="#2a2aff" stroke-width="1"/><line x1="81.6" y1="302.2" x2="79.0" y2="299.6" stroke="#2a2aff" stroke-width="1"/><line x1="89.4" y1="339.1" x2="74.7" y2="342.3" stroke="#2a2aff" stroke-width="1.05"/><line x1="74.7" y1="342.3" x2="69.2" y2="337.5" stroke="#2a2aff" stroke-width="1"/><line x1="77.2" y1="341.7" x2="71.7" y2="337.0" stroke="#2a2aff" stroke-width="1"/><line x1="79.8" y1="341.2" x2="74.2" y2="336.4" stroke="#2a2aff" stroke-width="1"/><line x1="82.3" y1="340.6" x2="79.6" y2="338.3" stroke="#2a2aff" stroke-width="1"/><line x1="56.3" y1="352.2" x2="40.3" y2="355.2" stroke="#2a2aff" stroke-width="1.05"/><line x1="40.3" y1="355.2" x2="34.9" y2="350.3" stroke="#2a2aff" stroke-width="1"/><line x1="42.9" y1="354.7" x2="37.5" y2="349.8" stroke="#2a2aff" stroke-width="1"/><line x1="45.4" y1="354.2" x2="40.0" y2="349.3" stroke="#2a2aff" stroke-width="1"/><line x1="48.0" y1="353.8" x2="45.3" y2="351.3" stroke="#2a2aff" stroke-width="1"/><line x1="89.4" y1="367.4" x2="76.7" y2="365.4" stroke="#2a2aff" stroke-width="1.05"/><line x1="76.7" y1="365.4" x2="73.3" y2="359.0" stroke="#2a2aff" stroke-width="1"/><line x1="79.3" y1="365.8" x2="75.8" y2="359.4" stroke="#2a2aff" stroke-width="1"/><line x1="81.8" y1="366.2" x2="78.4" y2="359.8" stroke="#2a2aff" stroke-width="1"/><line x1="84.4" y1="366.6" x2="82.7" y2="363.4" stroke="#2a2aff" stroke-width="1"/><line x1="56.0" y1="426.5" x2="40.7" y2="419.4" stroke="#2a2aff" stroke-width="1.05"/><line x1="40.7" y1="419.4" x2="39.2" y2="412.3" stroke="#2a2aff" stroke-width="1"/><line x1="43.1" y1="420.5" x2="41.5" y2="413.4" stroke="#2a2aff" stroke-width="1"/><line x1="45.4" y1="421.6" x2="43.9" y2="414.5" stroke="#2a2aff" stroke-width="1"/><line x1="47.8" y1="422.7" x2="47.0" y2="419.1" stroke="#2a2aff" stroke-width="1"/><line x1="89.5" y1="412.5" x2="75.8" y2="404.8" stroke="#2a2aff" stroke-width="1.05"/><line x1="75.8" y1="404.8" x2="74.8" y2="397.6" stroke="#2a2aff" stroke-width="1"/><line x1="78.1" y1="406.1" x2="77.1" y2="398.8" stroke="#2a2aff" stroke-width="1"/><line x1="80.3" y1="407.3" x2="79.4" y2="400.1" stroke="#2a2aff" stroke-width="1"/><line x1="82.6" y1="408.6" x2="82.1" y2="405.0" stroke="#2a2aff" stroke-width="1"/><line x1="56.3" y1="304.5" x2="40.3" y2="306.4" stroke="#2a2aff" stroke-width="1.05"/><line x1="40.3" y1="306.4" x2="35.2" y2="301.1" stroke="#2a2aff" stroke-width="1"/><line x1="42.9" y1="306.1" x2="37.8" y2="300.8" stroke="#2a2aff" stroke-width="1"/><line x1="45.5" y1="305.8" x2="40.4" y2="300.5" stroke="#2a2aff" stroke-width="1"/><line x1="48.0" y1="305.5" x2="43.0" y2="300.2" stroke="#2a2aff" stroke-width="1"/><line x1="56.3" y1="307.1" x2="40.3" y2="308.7" stroke="#2a2aff" stroke-width="1.05"/><line x1="40.3" y1="308.7" x2="35.3" y2="303.3" stroke="#2a2aff" stroke-width="1"/><line x1="42.9" y1="308.4" x2="37.9" y2="303.1" stroke="#2a2aff" stroke-width="1"/><line x1="45.5" y1="308.2" x2="40.5" y2="302.8" stroke="#2a2aff" stroke-width="1"/><line x1="48.1" y1="307.9" x2="45.6" y2="305.2" stroke="#2a2aff" stroke-width="1"/><line x1="60.3" y1="433.1" x2="57.4" y2="417.0" stroke="#2a2aff" stroke-width="1.05"/><line x1="57.4" y1="417.0" x2="62.4" y2="411.6" stroke="#2a2aff" stroke-width="1"/><line x1="57.9" y1="419.6" x2="62.8" y2="414.2" stroke="#2a2aff" stroke-width="1"/><line x1="58.3" y1="422.1" x2="60.8" y2="419.4" stroke="#2a2aff" stroke-width="1"/><line x1="62.4" y1="441.7" x2="64.9" y2="426.2" stroke="#2a2aff" stroke-width="1.05"/><line x1="64.9" y1="426.2" x2="71.4" y2="422.8" stroke="#2a2aff" stroke-width="1"/><line x1="64.5" y1="428.8" x2="70.9" y2="425.4" stroke="#2a2aff" stroke-width="1"/><line x1="64.1" y1="431.3" x2="67.3" y2="429.6" stroke="#2a2aff" stroke-width="1"/><line x1="62.6" y1="461.1" x2="70.0" y2="433.0" stroke="#2a2aff" stroke-width="1.05"/><line x1="70.0" y1="433.0" x2="76.8" y2="430.2" stroke="#2a2aff" stroke-width="1"/><line x1="69.3" y1="435.5" x2="76.1" y2="432.8" stroke="#2a2aff" stroke-width="1"/><line x1="68.7" y1="438.0" x2="75.4" y2="435.3" stroke="#2a2aff" stroke-width="1"/><line x1="68.0" y1="440.5" x2="71.4" y2="439.2" stroke="#2a2aff" stroke-width="1"/><line x1="62.6" y1="461.1" x2="64.5" y2="447.0" stroke="#2a2aff" stroke-width="1.05"/><line x1="64.5" y1="447.0" x2="70.9" y2="443.4" stroke="#2a2aff" stroke-width="1"/><line x1="64.2" y1="449.6" x2="70.5" y2="446.0" stroke="#2a2aff" stroke-width="1"/><line x1="94.1" y1="436.9" x2="92.6" y2="420.9" stroke="#2a2aff" stroke-width="1.05"/><line x1="92.6" y1="420.9" x2="98.0" y2="416.0" stroke="#2a2aff" stroke-width="1"/><line x1="92.8" y1="423.5" x2="98.2" y2="418.6" stroke="#2a2aff" stroke-width="1"/><line x1="93.1" y1="426.1" x2="95.8" y2="423.6" stroke="#2a2aff" stroke-width="1"/><line x1="97.2" y1="459.8" x2="101.0" y2="444.5" stroke="#2a2aff" stroke-width="1.05"/><line x1="101.0" y1="444.5" x2="107.7" y2="441.6" stroke="#2a2aff" stroke-width="1"/><line x1="38.0" y1="146.8" x2="262.0" y2="146.8" stroke="#e4e4e4" stroke-width="1" stroke-dasharray="1,6"/><line x1="38.0" y1="375.5" x2="262.0" y2="375.5" stroke="#e4e4e4" stroke-width="1" stroke-dasharray="1,6"/><text x="285.0" y="32.2" fill="#ff1a1a" font-size="7.9" text-anchor="start" font-weight="bold" font-family="Liberation Sans, sans-serif">100</text><text x="337.2" y="32.2" fill="#ff1a1a" font-size="7.9" text-anchor="start" font-weight="bold" font-family="Liberation Sans, sans-serif">120</text><text x="386.8" y="32.2" fill="#ff1a1a" font-size="7.9" text-anchor="start" font-weight="bold" font-family="Liberation Sans, sans-serif">140</text><text x="434.1" y="32.2" fill="#ff1a1a" font-size="7.9" text-anchor="start" font-weight="bold" font-family="Liberation Sans, sans-serif">160</text><text x="479.2" y="32.2" fill="#ff1a1a" font-size="7.9" text-anchor="start" font-weight="bold" font-family="Liberation Sans, sans-serif">180</text><text x="522.4" y="32.2" fill="#ff1a1a" font-size="7.9" text-anchor="start" font-weight="bold" font-family="Liberation Sans, sans-serif">200</text><text x="262.9" y="73.2" fill="#ff1a1a" font-size="7.9" text-anchor="end" font-weight="bold" font-family="Liberation Sans, sans-serif">80</text><text x="262.9" y="131.5" fill="#ff1a1a" font-size="7.9" text-anchor="end" font-weight="bold" font-family="Liberation Sans, sans-serif">60</text><text x="262.9" y="193.4" fill="#ff1a1a" font-size="7.9" text-anchor="end" font-weight="bold" font-family="Liberation Sans, sans-serif">40</text><text x="262.9" y="259.4" fill="#ff1a1a" font-size="7.9" text-anchor="end" font-weight="bold" font-family="Liberation Sans, sans-serif">20</text><text x="262.9" y="330.1" fill="#ff1a1a" font-size="7.9" text-anchor="end" font-weight="bold" font-family="Liberation Sans, sans-serif">0</text><text x="262.9" y="406.1" fill="#ff1a1a" font-size="7.9" text-anchor="end" font-weight="bold" font-family="Liberation Sans, sans-serif">-20</text><text x="259.4" y="163.8" fill="#2ca82c" font-size="7.6" text-anchor="end" font-weight="bold" font-family="Liberation Sans, sans-serif">100</text><text x="259.4" y="248.8" fill="#2ca82c" font-size="7.6" text-anchor="end" font-weight="bold" font-family="Liberation Sans, sans-serif">200</text><text x="259.4" y="299.8" fill="#2ca82c" font-size="7.6" text-anchor="end" font-weight="bold" font-family="Liberation Sans, sans-serif">300</text><text x="259.4" y="338.8" fill="#2ca82c" font-size="7.6" text-anchor="end" font-weight="bold" font-family="Liberation Sans, sans-serif">400</text><text x="259.4" y="369.8" fill="#2ca82c" font-size="7.6" text-anchor="end" font-weight="bold" font-family="Liberation Sans, sans-serif">500</text><text x="259.4" y="394.8" fill="#2ca82c" font-size="7.6" text-anchor="end" font-weight="bold" font-family="Liberation Sans, sans-serif">600</text><text x="259.4" y="414.8" fill="#2ca82c" font-size="7.6" text-anchor="end" font-weight="bold" font-family="Liberation Sans, sans-serif">700</text><text x="259.4" y="433.8" fill="#2ca82c" font-size="7.6" text-anchor="end" font-weight="bold" font-family="Liberation Sans, sans-serif">800</text><text x="259.4" y="450.8" fill="#2ca82c" font-size="7.6" text-anchor="end" font-weight="bold" font-family="Liberation Sans, sans-serif">900</text><text x="259.4" y="465.8" fill="#2ca82c" font-size="7.6" text-anchor="end" font-weight="bold" font-family="Liberation Sans, sans-serif">1000</text><text x="586.1" y="58.1" fill="#111" font-size="8" text-anchor="end" font-weight="normal" font-family="Liberation Sans, sans-serif" stroke="#111" stroke-width="0.2">-60</text><text x="586.1" y="143.9" fill="#111" font-size="8" text-anchor="end" font-weight="normal" font-family="Liberation Sans, sans-serif" stroke="#111" stroke-width="0.2">-40</text><text x="586.1" y="227.9" fill="#111" font-size="8" text-anchor="end" font-weight="normal" font-family="Liberation Sans, sans-serif" stroke="#111" stroke-width="0.2">-20</text><text x="586.1" y="399.8" fill="#111" font-size="8" text-anchor="end" font-weight="normal" font-family="Liberation Sans, sans-serif" stroke="#111" stroke-width="0.2">20</text><text x="590.5" y="313.0" fill="#1f8f1f" font-size="12" text-anchor="start" font-weight="normal" font-family="DejaVu Sans, sans-serif">0</text><text x="344.5" y="498.0" fill="#333" font-size="7.5" text-anchor="middle" font-weight="normal" font-family="Liberation Sans, sans-serif">1</text><text x="432.8" y="498.0" fill="#333" font-size="7.5" text-anchor="middle" font-weight="normal" font-family="Liberation Sans, sans-serif">5</text><text x="515.8" y="498.0" fill="#333" font-size="7.5" text-anchor="middle" font-weight="normal" font-family="Liberation Sans, sans-serif">20</text><text x="419.0" y="512.5" fill="#222" font-size="8.6" text-anchor="start" font-weight="bold" font-family="Liberation Mono, sans-serif">Mixing Ratio</text><text x="254.0" y="371.5" fill="#222" font-size="7.6" text-anchor="start" font-weight="bold" font-family="Liberation Sans, sans-serif">30.8</text><text x="84.0" y="24.5" fill="#000" font-size="8.7" text-anchor="start" font-weight="normal" font-family="Liberation Mono, sans-serif">Wind</text><text x="118.0" y="16.5" fill="#000" font-size="8.7" text-anchor="start" font-weight="normal" font-family="Liberation Mono, sans-serif">Geopotential</text><text x="129.0" y="27.0" fill="#000" font-size="8.7" text-anchor="start" font-weight="normal" font-family="Liberation Mono, sans-serif">Height</text><text x="182.5" y="24.5" fill="#000" font-size="8.7" text-anchor="start" font-weight="normal" font-family="Liberation Mono, sans-serif">km</text><text x="206.0" y="24.5" fill="#000" font-size="8.7" text-anchor="start" font-weight="normal" font-family="Liberation Mono, sans-serif">ft</text><text x="206.3" y="35.0" fill="#000" font-size="8.4" text-anchor="start" font-weight="normal" font-family="Liberation Mono, sans-serif">(1000)</text><text x="133.6" y="163.4" fill="#111" font-size="8.2" text-anchor="start" font-weight="normal" font-family="Liberation Sans, sans-serif" stroke="#111" stroke-width="0.2">15360</text><text x="133.6" y="212.1" fill="#111" font-size="8.2" text-anchor="start" font-weight="normal" font-family="Liberation Sans, sans-serif" stroke="#111" stroke-width="0.2">12860</text><text x="133.6" y="248.5" fill="#111" font-size="8.2" text-anchor="start" font-weight="normal" font-family="Liberation Sans, sans-serif" stroke="#111" stroke-width="0.2">11040</text><text x="133.6" y="276.3" fill="#111" font-size="8.2" text-anchor="start" font-weight="normal" font-family="Liberation Sans, sans-serif" stroke="#111" stroke-width="0.2">9610</text><text x="133.6" y="300.2" fill="#111" font-size="8.2" text-anchor="start" font-weight="normal" font-family="Liberation Sans, sans-serif" stroke="#111" stroke-width="0.2">8450</text><text x="133.6" y="338.4" fill="#111" font-size="8.2" text-anchor="start" font-weight="normal" font-family="Liberation Sans, sans-serif" stroke="#111" stroke-width="0.2">6590</text><text x="133.6" y="368.8" fill="#111" font-size="8.2" text-anchor="start" font-weight="normal" font-family="Liberation Sans, sans-serif" stroke="#111" stroke-width="0.2">5080</text><text x="133.6" y="415.6" fill="#111" font-size="8.2" text-anchor="start" font-weight="normal" font-family="Liberation Sans, sans-serif" stroke="#111" stroke-width="0.2">2698</text><text x="133.6" y="442.3" fill="#111" font-size="8.2" text-anchor="start" font-weight="normal" font-family="Liberation Sans, sans-serif" stroke="#111" stroke-width="0.2">1278</text><text x="133.6" y="465.1" fill="#111" font-size="8.2" text-anchor="start" font-weight="normal" font-family="Liberation Sans, sans-serif" stroke="#111" stroke-width="0.2">63</text><text x="193.3" y="90.4" fill="#111" font-size="7.3" text-anchor="end" font-weight="normal" font-family="Liberation Sans, sans-serif" stroke="#111" stroke-width="0.2">19</text><text x="193.3" y="113.3" fill="#111" font-size="7.3" text-anchor="end" font-weight="normal" font-family="Liberation Sans, sans-serif" stroke="#111" stroke-width="0.2">18</text><text x="193.3" y="135.8" fill="#111" font-size="7.3" text-anchor="end" font-weight="normal" font-family="Liberation Sans, sans-serif" stroke="#111" stroke-width="0.2">17</text><text x="193.3" y="158.5" fill="#111" font-size="7.3" text-anchor="end" font-weight="normal" font-family="Liberation Sans, sans-serif" stroke="#111" stroke-width="0.2">16</text><text x="193.3" y="179.9" fill="#111" font-size="7.3" text-anchor="end" font-weight="normal" font-family="Liberation Sans, sans-serif" stroke="#111" stroke-width="0.2">15</text><text x="193.3" y="201.2" fill="#111" font-size="7.3" text-anchor="end" font-weight="normal" font-family="Liberation Sans, sans-serif" stroke="#111" stroke-width="0.2">14</text><text x="193.3" y="222.9" fill="#111" font-size="7.3" text-anchor="end" font-weight="normal" font-family="Liberation Sans, sans-serif" stroke="#111" stroke-width="0.2">13</text><text x="193.3" y="242.8" fill="#111" font-size="7.3" text-anchor="end" font-weight="normal" font-family="Liberation Sans, sans-serif" stroke="#111" stroke-width="0.2">12</text><text x="193.3" y="262.6" fill="#111" font-size="7.3" text-anchor="end" font-weight="normal" font-family="Liberation Sans, sans-serif" stroke="#111" stroke-width="0.2">11</text><text x="193.3" y="283.1" fill="#111" font-size="7.3" text-anchor="end" font-weight="normal" font-family="Liberation Sans, sans-serif" stroke="#111" stroke-width="0.2">10</text><text x="193.3" y="303.1" fill="#111" font-size="7.3" text-anchor="end" font-weight="normal" font-family="Liberation Sans, sans-serif" stroke="#111" stroke-width="0.2">9</text><text x="193.3" y="322.3" fill="#111" font-size="7.3" text-anchor="end" font-weight="normal" font-family="Liberation Sans, sans-serif" stroke="#111" stroke-width="0.2">8</text><text x="193.3" y="341.2" fill="#111" font-size="7.3" text-anchor="end" font-weight="normal" font-family="Liberation Sans, sans-serif" stroke="#111" stroke-width="0.2">7</text><text x="193.3" y="360.5" fill="#111" font-size="7.3" text-anchor="end" font-weight="normal" font-family="Liberation Sans, sans-serif" stroke="#111" stroke-width="0.2">6</text><text x="193.3" y="379.1" fill="#111" font-size="7.3" text-anchor="end" font-weight="normal" font-family="Liberation Sans, sans-serif" stroke="#111" stroke-width="0.2">5</text><text x="193.3" y="397.4" fill="#111" font-size="7.3" text-anchor="end" font-weight="normal" font-family="Liberation Sans, sans-serif" stroke="#111" stroke-width="0.2">4</text><text x="193.3" y="414.9" fill="#111" font-size="7.3" text-anchor="end" font-weight="normal" font-family="Liberation Sans, sans-serif" stroke="#111" stroke-width="0.2">3</text><text x="193.3" y="433.3" fill="#111" font-size="7.3" text-anchor="end" font-weight="normal" font-family="Liberation Sans, sans-serif" stroke="#111" stroke-width="0.2">2</text><text x="193.3" y="450.4" fill="#111" font-size="7.3" text-anchor="end" font-weight="normal" font-family="Liberation Sans, sans-serif" stroke="#111" stroke-width="0.2">1</text><text x="193.3" y="467.6" fill="#111" font-size="7.3" text-anchor="end" font-weight="normal" font-family="Liberation Sans, sans-serif" stroke="#111" stroke-width="0.2">0</text><text x="209.6" y="106.0" fill="#111" font-size="7.3" text-anchor="start" font-weight="normal" font-family="Liberation Sans, sans-serif" stroke="#111" stroke-width="0.2">60</text><text x="209.6" y="141.4" fill="#111" font-size="7.3" text-anchor="start" font-weight="normal" font-family="Liberation Sans, sans-serif" stroke="#111" stroke-width="0.2">55</text><text x="209.6" y="174.6" fill="#111" font-size="7.3" text-anchor="start" font-weight="normal" font-family="Liberation Sans, sans-serif" stroke="#111" stroke-width="0.2">50</text><text x="209.6" y="207.6" fill="#111" font-size="7.3" text-anchor="start" font-weight="normal" font-family="Liberation Sans, sans-serif" stroke="#111" stroke-width="0.2">45</text><text x="209.6" y="239.1" fill="#111" font-size="7.3" text-anchor="start" font-weight="normal" font-family="Liberation Sans, sans-serif" stroke="#111" stroke-width="0.2">40</text><text x="209.6" y="269.6" fill="#111" font-size="7.3" text-anchor="start" font-weight="normal" font-family="Liberation Sans, sans-serif" stroke="#111" stroke-width="0.2">35</text><text x="209.6" y="300.1" fill="#111" font-size="7.3" text-anchor="start" font-weight="normal" font-family="Liberation Sans, sans-serif" stroke="#111" stroke-width="0.2">30</text><text x="209.6" y="329.9" fill="#111" font-size="7.3" text-anchor="start" font-weight="normal" font-family="Liberation Sans, sans-serif" stroke="#111" stroke-width="0.2">25</text><text x="209.6" y="358.3" fill="#111" font-size="7.3" text-anchor="start" font-weight="normal" font-family="Liberation Sans, sans-serif" stroke="#111" stroke-width="0.2">20</text><text x="209.6" y="387.9" fill="#111" font-size="7.3" text-anchor="start" font-weight="normal" font-family="Liberation Sans, sans-serif" stroke="#111" stroke-width="0.2">15</text><text x="209.6" y="414.5" fill="#111" font-size="7.3" text-anchor="start" font-weight="normal" font-family="Liberation Sans, sans-serif" stroke="#111" stroke-width="0.2">10</text><text x="209.6" y="441.1" fill="#111" font-size="7.3" text-anchor="start" font-weight="normal" font-family="Liberation Sans, sans-serif" stroke="#111" stroke-width="0.2">5</text><text x="209.6" y="467.6" fill="#111" font-size="7.3" text-anchor="start" font-weight="normal" font-family="Liberation Sans, sans-serif" stroke="#111" stroke-width="0.2">0</text></svg></body></html>
